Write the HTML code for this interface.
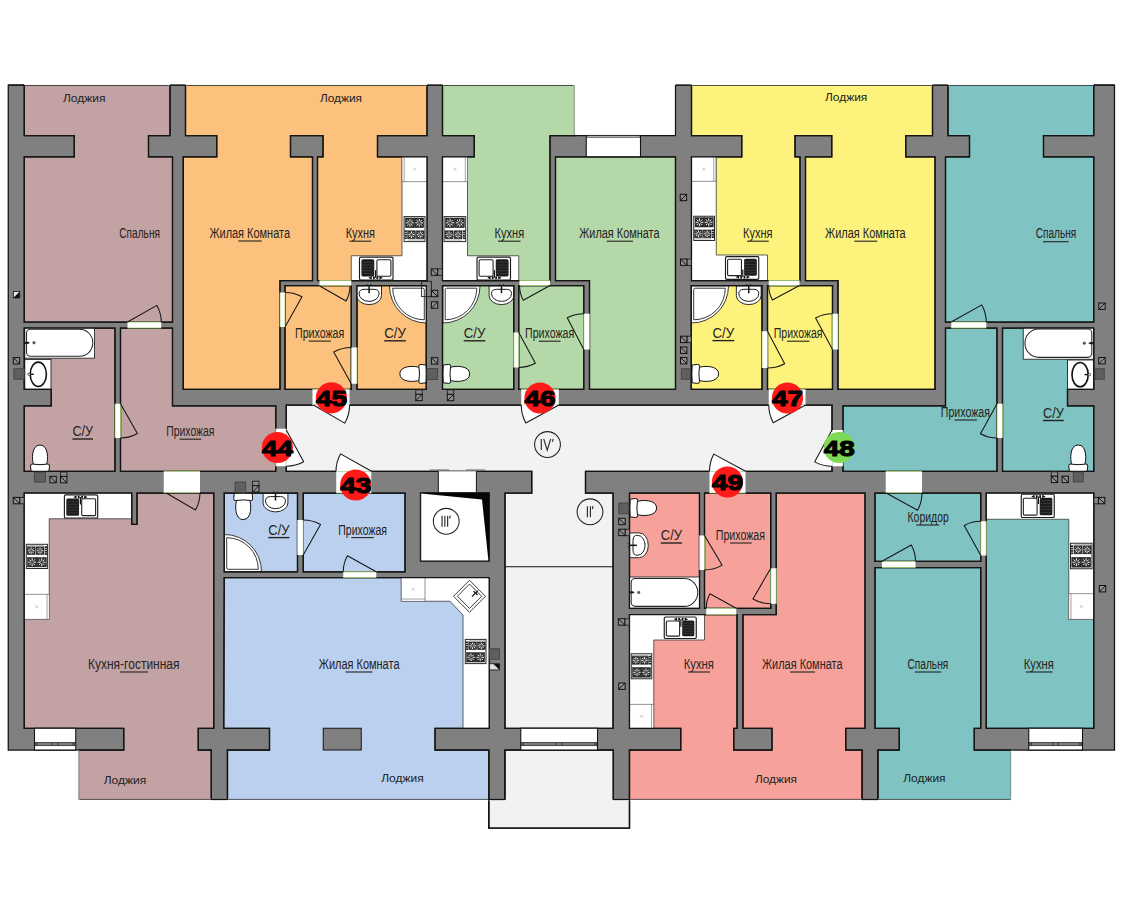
<!DOCTYPE html>
<html lang="ru"><head><meta charset="utf-8"><title>План этажа</title>
<style>
html,body{margin:0;padding:0;background:#fff;}
body{width:1140px;height:913px;overflow:hidden;font-family:"Liberation Sans",sans-serif;}
svg{display:block;}
svg text{font-family:"Liberation Sans",sans-serif;}
</style></head><body>
<svg width="1140" height="913" viewBox="0 0 1140 913">
<rect width="1140" height="913" fill="#ffffff"/>
<g id="walls">
<polygon points="8.25,85 574.5,85 574.5,135.5 675.5,135.5 675.5,85 1114.5,85 1114.5,750 878,750 878,799.5 862,799.5 862,750 629.5,750 629.5,799.5 613.25,799.5 613.25,750 505,750 505,799.5 488.75,799.5 488.75,750 227.5,750 227.5,799.5 211.25,799.5 211.25,750 8.25,750" fill="#808080" stroke="#141414" stroke-width="1.25" />
</g>
<g id="rooms" stroke-linejoin="miter">
<polygon points="286.25,405 832,405 832,471.25 585.5,471.25 585.5,493 613,493 613,728.25 505,728.25 505,493 531.75,493 531.75,471.25 286.25,471.25" fill="#f2f2f2" stroke="#141414" stroke-width="1.25" />
<line x1="505" y1="566.75" x2="613" y2="566.75" stroke="#141414" stroke-width="1" />
<polygon points="505,750 613.25,750 613.25,799.5 629.5,799.5 629.5,828 488.75,828 488.75,799.5 505,799.5" fill="#f2f2f2" stroke="#141414" stroke-width="1.25" />
<polygon points="24.25,85 170,85 170,135.5 148.5,135.5 148.5,156.75 172.5,156.75 172.5,322 24.25,322 24.25,156.75 74.25,156.75 74.25,135.5 24.25,135.5" fill="#c3a2a4" stroke="#141414" stroke-width="1.25" />
<polygon points="24.25,328 115,328 115,471.25 24.25,471.25 24.25,405.75 51.25,405.75 51.25,389.25 24.25,389.25" fill="#c3a2a4" stroke="#141414" stroke-width="1.25" />
<polygon points="120.5,328 172.5,328 172.5,405.75 275.75,405.75 275.75,471.25 120.5,471.25" fill="#c3a2a4" stroke="#141414" stroke-width="1.25" />
<polygon points="24.25,493 131.75,493 131.75,524.25 137,524.25 137,493 213.75,493 213.75,728.25 198.25,728.25 198.25,750 211.25,750 211.25,799.5 78.75,799.5 78.75,750 123.75,750 123.75,728.25 24.25,728.25" fill="#c3a2a4" stroke="#141414" stroke-width="1.25" />
<polygon points="185.5,85 427,85 427,135.5 377.5,135.5 377.5,156.75 427,156.75 427,280.5 317.5,280.5 317.5,156.75 323,156.75 323,135.5 290.5,135.5 290.5,156.75 312.5,156.75 312.5,280.5 280,280.5 280,389.25 183.25,389.25 183.25,156.75 216.75,156.75 216.75,135.5 185.5,135.5" fill="#fbc17d" stroke="#141414" stroke-width="1.25" />
<polygon points="285,285.5 351.25,285.5 351.25,389.25 285,389.25" fill="#fbc17d" stroke="#141414" stroke-width="1.25" />
<polygon points="357,285.5 426.25,285.5 426.25,389.25 357,389.25" fill="#fbc17d" stroke="#141414" stroke-width="1.25" />
<polygon points="442.5,85 574.5,85 574.5,135.5 550,135.5 550,280.5 442.5,280.5 442.5,156.75 474.25,156.75 474.25,135.5 442.5,135.5" fill="#b5d8a8" stroke="#141414" stroke-width="1.25" />
<polygon points="555.5,156.75 675.5,156.75 675.5,389.25 589.5,389.25 589.5,280.5 555.5,280.5" fill="#b5d8a8" stroke="#141414" stroke-width="1.25" />
<polygon points="518.75,285.5 583.75,285.5 583.75,389.25 518.75,389.25" fill="#b5d8a8" stroke="#141414" stroke-width="1.25" />
<polygon points="442.5,285.5 513.75,285.5 513.75,389.25 442.5,389.25" fill="#b5d8a8" stroke="#141414" stroke-width="1.25" />
<polygon points="691.5,85 932.5,85 932.5,135.5 905.75,135.5 905.75,156.75 935,156.75 935,389.25 838,389.25 838,280.5 805.5,280.5 805.5,156.75 831.75,156.75 831.75,135.5 795,135.5 795,156.75 800,156.75 800,280.5 691.5,280.5 691.5,156.75 741.75,156.75 741.75,135.5 691.5,135.5" fill="#fdf27b" stroke="#141414" stroke-width="1.25" />
<polygon points="691.25,285.5 762,285.5 762,389.25 691.25,389.25" fill="#fdf27b" stroke="#141414" stroke-width="1.25" />
<polygon points="767.5,285.5 832.5,285.5 832.5,389.25 767.5,389.25" fill="#fdf27b" stroke="#141414" stroke-width="1.25" />
<polygon points="948,85 1093.75,85 1093.75,135.5 1043.5,135.5 1043.5,156.75 1093.75,156.75 1093.75,322 945.5,322 945.5,156.75 969.5,156.75 969.5,135.5 948,135.5" fill="#7fc3c3" stroke="#141414" stroke-width="1.25" />
<polygon points="945.5,328 997,328 997,471.25 843,471.25 843,405.75 945.5,405.75" fill="#7fc3c3" stroke="#141414" stroke-width="1.25" />
<polygon points="1002.5,328 1093.75,328 1093.75,389.25 1067.5,389.25 1067.5,405.75 1093.75,405.75 1093.75,471.25 1002.5,471.25" fill="#7fc3c3" stroke="#141414" stroke-width="1.25" />
<polygon points="875,493 980.75,493 980.75,561.25 875,561.25" fill="#7fc3c3" stroke="#141414" stroke-width="1.25" />
<polygon points="875,567.5 980.75,567.5 980.75,728.25 974.25,728.25 974.25,750 1010.75,750 1010.75,799.5 878,799.5 878,750 899.25,750 899.25,728.25 875,728.25" fill="#7fc3c3" stroke="#141414" stroke-width="1.25" />
<polygon points="986.25,493 1093.75,493 1093.75,728.25 986.25,728.25" fill="#7fc3c3" stroke="#141414" stroke-width="1.25" />
<polygon points="224.25,493 297.5,493 297.5,571.75 224.25,571.75" fill="#bbd0ee" stroke="#141414" stroke-width="1.25" />
<polygon points="303.25,493 405,493 405,571.75 303.25,571.75" fill="#bbd0ee" stroke="#141414" stroke-width="1.25" />
<polygon points="224.25,577.5 489.25,577.5 489.25,728.25 435,728.25 435,750 488.75,750 488.75,799.5 227.5,799.5 227.5,750 269.5,750 269.5,728.25 223.75,728.25" fill="#bbd0ee" stroke="#141414" stroke-width="1.25" />
<rect x="323.25" y="728.25" width="38" height="21.75" fill="#808080" stroke="#141414" stroke-width="1" />
<polygon points="629.5,493 699.5,493 699.5,608.25 629.5,608.25" fill="#f6a29b" stroke="#141414" stroke-width="1.25" />
<polygon points="704.5,493 770.75,493 770.75,608.25 704.5,608.25" fill="#f6a29b" stroke="#141414" stroke-width="1.25" />
<polygon points="629.5,614.5 737,614.5 737,728.25 733.75,728.25 733.75,750 772,750 772,728.25 743,728.25 743,614.5 776.25,614.5 776.25,493 865,493 865,728.25 845.75,728.25 845.75,750 862,750 862,799.5 629.5,799.5 629.5,750 680.75,750 680.75,728.25 629.5,728.25" fill="#f6a29b" stroke="#141414" stroke-width="1.25" />
</g>
<g id="counters">
<polygon points="402,156.75 427,156.75 427,281 351.25,281 351.25,255.75 402,255.75" fill="#ffffff" stroke="#3a3a3a" stroke-width="0.8" />
<polygon points="442.5,156.75 467.5,156.75 467.5,255.75 518.75,255.75 518.75,281 442.5,281" fill="#ffffff" stroke="#3a3a3a" stroke-width="0.8" />
<polygon points="691.5,156.75 716.25,156.75 716.25,255 767.5,255 767.5,280.5 691.5,280.5" fill="#ffffff" stroke="#3a3a3a" stroke-width="0.8" />
<polygon points="24.25,493 131.5,493 131.5,518.75 49.25,518.75 49.25,619.25 24.25,619.25" fill="#ffffff" stroke="#3a3a3a" stroke-width="0.8" />
<polygon points="986.25,493 1093.75,493 1093.75,619.25 1068.75,619.25 1068.75,519.25 986.25,519.25" fill="#ffffff" stroke="#3a3a3a" stroke-width="0.8" />
<polygon points="401.25,577.5 489.25,577.5 489.25,728.25 463,728.25 463,615 450,601.25 401.25,601.25" fill="#ffffff" stroke="#3a3a3a" stroke-width="0.8" />
<polygon points="629.5,614.5 704.5,614.5 704.5,640 653.75,640 653.75,728.25 629.5,728.25" fill="#ffffff" stroke="#3a3a3a" stroke-width="0.8" />
</g>
<g id="fixtures">
<rect x="402" y="156.75" width="25" height="25" fill="#ffffff" stroke="#666" stroke-width="0.7" />
<line x1="404.2" y1="156.75" x2="404.2" y2="181.75" stroke="#666" stroke-width="0.6" />
<line x1="413" y1="167.75" x2="416" y2="170.75" stroke="#aaa" stroke-width="0.6" />
<line x1="413" y1="170.75" x2="416" y2="167.75" stroke="#aaa" stroke-width="0.6" />
<rect x="442.5" y="156.75" width="25" height="25" fill="#ffffff" stroke="#666" stroke-width="0.7" />
<line x1="465.3" y1="156.75" x2="465.3" y2="181.75" stroke="#666" stroke-width="0.6" />
<line x1="453.5" y1="167.75" x2="456.5" y2="170.75" stroke="#aaa" stroke-width="0.6" />
<line x1="453.5" y1="170.75" x2="456.5" y2="167.75" stroke="#aaa" stroke-width="0.6" />
<rect x="691.5" y="156.75" width="24.5" height="24.5" fill="#ffffff" stroke="#666" stroke-width="0.7" />
<line x1="713.8" y1="156.75" x2="713.8" y2="181.25" stroke="#666" stroke-width="0.6" />
<line x1="702.25" y1="167.5" x2="705.25" y2="170.5" stroke="#aaa" stroke-width="0.6" />
<line x1="702.25" y1="170.5" x2="705.25" y2="167.5" stroke="#aaa" stroke-width="0.6" />
<rect x="24.25" y="594.25" width="25" height="25" fill="#ffffff" stroke="#666" stroke-width="0.7" />
<line x1="47.05" y1="594.25" x2="47.05" y2="619.25" stroke="#666" stroke-width="0.6" />
<line x1="35.25" y1="605.25" x2="38.25" y2="608.25" stroke="#aaa" stroke-width="0.6" />
<line x1="35.25" y1="608.25" x2="38.25" y2="605.25" stroke="#aaa" stroke-width="0.6" />
<rect x="1068.75" y="593.75" width="25" height="25.5" fill="#ffffff" stroke="#666" stroke-width="0.7" />
<line x1="1070.95" y1="593.75" x2="1070.95" y2="619.25" stroke="#666" stroke-width="0.6" />
<line x1="1079.75" y1="605" x2="1082.75" y2="608" stroke="#aaa" stroke-width="0.6" />
<line x1="1079.75" y1="608" x2="1082.75" y2="605" stroke="#aaa" stroke-width="0.6" />
<rect x="401.25" y="577.5" width="23.75" height="23.75" fill="#ffffff" stroke="#666" stroke-width="0.7" />
<line x1="401.25" y1="599.05" x2="425" y2="599.05" stroke="#666" stroke-width="0.6" />
<line x1="411.625" y1="587.875" x2="414.625" y2="590.875" stroke="#aaa" stroke-width="0.6" />
<line x1="411.625" y1="590.875" x2="414.625" y2="587.875" stroke="#aaa" stroke-width="0.6" />
<rect x="629.5" y="704.25" width="24.25" height="24" fill="#ffffff" stroke="#666" stroke-width="0.7" />
<line x1="651.55" y1="704.25" x2="651.55" y2="728.25" stroke="#666" stroke-width="0.6" />
<line x1="640.125" y1="714.75" x2="643.125" y2="717.75" stroke="#aaa" stroke-width="0.6" />
<line x1="640.125" y1="717.75" x2="643.125" y2="714.75" stroke="#aaa" stroke-width="0.6" />
<rect x="404.1" y="216.6" width="20.9" height="25" fill="#ffffff" stroke="#2a2a2a" stroke-width="1.0" />
<rect x="405.4" y="218" width="8.987" height="9.625" fill="#2f2f2f" stroke="#1a1a1a" stroke-width="0.5" />
<line x1="411.574" y1="222.812" x2="413.713" y2="222.812" stroke="#f4f4f4" stroke-width="1.0" />
<line x1="411.082" y1="224.001" x2="412.594" y2="225.513" stroke="#f4f4f4" stroke-width="1.0" />
<line x1="409.894" y1="224.493" x2="409.894" y2="226.632" stroke="#f4f4f4" stroke-width="1.0" />
<line x1="408.705" y1="224.001" x2="407.193" y2="225.513" stroke="#f4f4f4" stroke-width="1.0" />
<line x1="408.213" y1="222.812" x2="406.074" y2="222.812" stroke="#f4f4f4" stroke-width="1.0" />
<line x1="408.705" y1="221.624" x2="407.193" y2="220.112" stroke="#f4f4f4" stroke-width="1.0" />
<line x1="409.894" y1="221.132" x2="409.894" y2="218.993" stroke="#f4f4f4" stroke-width="1.0" />
<line x1="411.082" y1="221.624" x2="412.594" y2="220.112" stroke="#f4f4f4" stroke-width="1.0" />
<circle cx="409.894" cy="222.812" r="1.28334" fill="#2f2f2f" stroke="#bdbdbd" stroke-width="0.5"/>
<rect x="414.713" y="218" width="8.987" height="9.625" fill="#2f2f2f" stroke="#1a1a1a" stroke-width="0.5" />
<line x1="420.887" y1="222.812" x2="423.026" y2="222.812" stroke="#f4f4f4" stroke-width="1.0" />
<line x1="420.395" y1="224.001" x2="421.907" y2="225.513" stroke="#f4f4f4" stroke-width="1.0" />
<line x1="419.207" y1="224.493" x2="419.207" y2="226.632" stroke="#f4f4f4" stroke-width="1.0" />
<line x1="418.018" y1="224.001" x2="416.506" y2="225.513" stroke="#f4f4f4" stroke-width="1.0" />
<line x1="417.526" y1="222.812" x2="415.387" y2="222.812" stroke="#f4f4f4" stroke-width="1.0" />
<line x1="418.018" y1="221.624" x2="416.506" y2="220.112" stroke="#f4f4f4" stroke-width="1.0" />
<line x1="419.207" y1="221.132" x2="419.207" y2="218.993" stroke="#f4f4f4" stroke-width="1.0" />
<line x1="420.395" y1="221.624" x2="421.907" y2="220.112" stroke="#f4f4f4" stroke-width="1.0" />
<circle cx="419.207" cy="222.812" r="1.28334" fill="#2f2f2f" stroke="#bdbdbd" stroke-width="0.5"/>
<rect x="407.653" y="230.825" width="7.733" height="7.875" fill="#2f2f2f" stroke="#1a1a1a" stroke-width="0.5" />
<line x1="412.966" y1="234.762" x2="414.806" y2="234.762" stroke="#f4f4f4" stroke-width="1.0" />
<line x1="412.542" y1="235.785" x2="413.843" y2="237.086" stroke="#f4f4f4" stroke-width="1.0" />
<line x1="411.519" y1="236.209" x2="411.519" y2="238.049" stroke="#f4f4f4" stroke-width="1.0" />
<line x1="410.497" y1="235.785" x2="409.196" y2="237.086" stroke="#f4f4f4" stroke-width="1.0" />
<line x1="410.073" y1="234.762" x2="408.233" y2="234.762" stroke="#f4f4f4" stroke-width="1.0" />
<line x1="410.497" y1="233.74" x2="409.196" y2="232.439" stroke="#f4f4f4" stroke-width="1.0" />
<line x1="411.519" y1="233.316" x2="411.519" y2="231.476" stroke="#f4f4f4" stroke-width="1.0" />
<line x1="412.542" y1="233.74" x2="413.843" y2="232.439" stroke="#f4f4f4" stroke-width="1.0" />
<circle cx="411.519" cy="234.762" r="1.10427" fill="#2f2f2f" stroke="#bdbdbd" stroke-width="0.5"/>
<rect x="416.386" y="230.825" width="7.733" height="7.875" fill="#2f2f2f" stroke="#1a1a1a" stroke-width="0.5" />
<line x1="421.699" y1="234.762" x2="423.539" y2="234.762" stroke="#f4f4f4" stroke-width="1.0" />
<line x1="421.275" y1="235.785" x2="422.576" y2="237.086" stroke="#f4f4f4" stroke-width="1.0" />
<line x1="420.252" y1="236.209" x2="420.252" y2="238.049" stroke="#f4f4f4" stroke-width="1.0" />
<line x1="419.23" y1="235.785" x2="417.929" y2="237.086" stroke="#f4f4f4" stroke-width="1.0" />
<line x1="418.806" y1="234.762" x2="416.966" y2="234.762" stroke="#f4f4f4" stroke-width="1.0" />
<line x1="419.23" y1="233.74" x2="417.929" y2="232.439" stroke="#f4f4f4" stroke-width="1.0" />
<line x1="420.252" y1="233.316" x2="420.252" y2="231.476" stroke="#f4f4f4" stroke-width="1.0" />
<line x1="421.275" y1="233.74" x2="422.576" y2="232.439" stroke="#f4f4f4" stroke-width="1.0" />
<circle cx="420.252" cy="234.762" r="1.10427" fill="#2f2f2f" stroke="#bdbdbd" stroke-width="0.5"/>
<rect x="404.5" y="230.225" width="2.4" height="1.7" fill="#222" stroke="none" stroke-width="1" />
<rect x="404.5" y="232.594" width="2.4" height="1.7" fill="#222" stroke="none" stroke-width="1" />
<rect x="404.5" y="234.963" width="2.4" height="1.7" fill="#222" stroke="none" stroke-width="1" />
<rect x="404.5" y="237.331" width="2.4" height="1.7" fill="#222" stroke="none" stroke-width="1" />
<line x1="407.5" y1="240" x2="424" y2="240" stroke="#555" stroke-width="0.6" />
<rect x="444.1" y="216.6" width="21.6" height="25" fill="#ffffff" stroke="#2a2a2a" stroke-width="1.0" />
<rect x="445.4" y="218" width="9.288" height="9.625" fill="#2f2f2f" stroke="#1a1a1a" stroke-width="0.5" />
<line x1="451.781" y1="222.812" x2="453.991" y2="222.812" stroke="#f4f4f4" stroke-width="1.0" />
<line x1="451.272" y1="224.041" x2="452.835" y2="225.604" stroke="#f4f4f4" stroke-width="1.0" />
<line x1="450.044" y1="224.549" x2="450.044" y2="226.76" stroke="#f4f4f4" stroke-width="1.0" />
<line x1="448.816" y1="224.041" x2="447.253" y2="225.604" stroke="#f4f4f4" stroke-width="1.0" />
<line x1="448.307" y1="222.812" x2="446.097" y2="222.812" stroke="#f4f4f4" stroke-width="1.0" />
<line x1="448.816" y1="221.584" x2="447.253" y2="220.021" stroke="#f4f4f4" stroke-width="1.0" />
<line x1="450.044" y1="221.076" x2="450.044" y2="218.865" stroke="#f4f4f4" stroke-width="1.0" />
<line x1="451.272" y1="221.584" x2="452.835" y2="220.021" stroke="#f4f4f4" stroke-width="1.0" />
<circle cx="450.044" cy="222.812" r="1.32633" fill="#2f2f2f" stroke="#bdbdbd" stroke-width="0.5"/>
<rect x="455.112" y="218" width="9.288" height="9.625" fill="#2f2f2f" stroke="#1a1a1a" stroke-width="0.5" />
<line x1="461.493" y1="222.812" x2="463.703" y2="222.812" stroke="#f4f4f4" stroke-width="1.0" />
<line x1="460.984" y1="224.041" x2="462.547" y2="225.604" stroke="#f4f4f4" stroke-width="1.0" />
<line x1="459.756" y1="224.549" x2="459.756" y2="226.76" stroke="#f4f4f4" stroke-width="1.0" />
<line x1="458.528" y1="224.041" x2="456.965" y2="225.604" stroke="#f4f4f4" stroke-width="1.0" />
<line x1="458.019" y1="222.812" x2="455.809" y2="222.812" stroke="#f4f4f4" stroke-width="1.0" />
<line x1="458.528" y1="221.584" x2="456.965" y2="220.021" stroke="#f4f4f4" stroke-width="1.0" />
<line x1="459.756" y1="221.076" x2="459.756" y2="218.865" stroke="#f4f4f4" stroke-width="1.0" />
<line x1="460.984" y1="221.584" x2="462.547" y2="220.021" stroke="#f4f4f4" stroke-width="1.0" />
<circle cx="459.756" cy="222.812" r="1.32633" fill="#2f2f2f" stroke="#bdbdbd" stroke-width="0.5"/>
<rect x="445.044" y="230.825" width="7.992" height="7.875" fill="#2f2f2f" stroke="#1a1a1a" stroke-width="0.5" />
<line x1="450.513" y1="234.762" x2="452.387" y2="234.762" stroke="#f4f4f4" stroke-width="1.0" />
<line x1="450.081" y1="235.804" x2="451.407" y2="237.129" stroke="#f4f4f4" stroke-width="1.0" />
<line x1="449.04" y1="236.235" x2="449.04" y2="238.109" stroke="#f4f4f4" stroke-width="1.0" />
<line x1="447.999" y1="235.804" x2="446.673" y2="237.129" stroke="#f4f4f4" stroke-width="1.0" />
<line x1="447.567" y1="234.762" x2="445.693" y2="234.762" stroke="#f4f4f4" stroke-width="1.0" />
<line x1="447.999" y1="233.721" x2="446.673" y2="232.396" stroke="#f4f4f4" stroke-width="1.0" />
<line x1="449.04" y1="233.29" x2="449.04" y2="231.416" stroke="#f4f4f4" stroke-width="1.0" />
<line x1="450.081" y1="233.721" x2="451.407" y2="232.396" stroke="#f4f4f4" stroke-width="1.0" />
<circle cx="449.04" cy="234.762" r="1.12455" fill="#2f2f2f" stroke="#bdbdbd" stroke-width="0.5"/>
<rect x="454.036" y="230.825" width="7.992" height="7.875" fill="#2f2f2f" stroke="#1a1a1a" stroke-width="0.5" />
<line x1="459.505" y1="234.762" x2="461.379" y2="234.762" stroke="#f4f4f4" stroke-width="1.0" />
<line x1="459.073" y1="235.804" x2="460.399" y2="237.129" stroke="#f4f4f4" stroke-width="1.0" />
<line x1="458.032" y1="236.235" x2="458.032" y2="238.109" stroke="#f4f4f4" stroke-width="1.0" />
<line x1="456.991" y1="235.804" x2="455.665" y2="237.129" stroke="#f4f4f4" stroke-width="1.0" />
<line x1="456.559" y1="234.762" x2="454.685" y2="234.762" stroke="#f4f4f4" stroke-width="1.0" />
<line x1="456.991" y1="233.721" x2="455.665" y2="232.396" stroke="#f4f4f4" stroke-width="1.0" />
<line x1="458.032" y1="233.29" x2="458.032" y2="231.416" stroke="#f4f4f4" stroke-width="1.0" />
<line x1="459.073" y1="233.721" x2="460.399" y2="232.396" stroke="#f4f4f4" stroke-width="1.0" />
<circle cx="458.032" cy="234.762" r="1.12455" fill="#2f2f2f" stroke="#bdbdbd" stroke-width="0.5"/>
<rect x="462.9" y="230.225" width="2.4" height="1.7" fill="#222" stroke="none" stroke-width="1" />
<rect x="462.9" y="232.594" width="2.4" height="1.7" fill="#222" stroke="none" stroke-width="1" />
<rect x="462.9" y="234.963" width="2.4" height="1.7" fill="#222" stroke="none" stroke-width="1" />
<rect x="462.9" y="237.331" width="2.4" height="1.7" fill="#222" stroke="none" stroke-width="1" />
<line x1="445.1" y1="240" x2="462.3" y2="240" stroke="#555" stroke-width="0.6" />
<rect x="693.75" y="216.25" width="20.75" height="24.25" fill="#ffffff" stroke="#2a2a2a" stroke-width="1.0" />
<rect x="695.05" y="217.65" width="8.9225" height="9.33625" fill="#2f2f2f" stroke="#1a1a1a" stroke-width="0.5" />
<line x1="701.18" y1="222.318" x2="703.303" y2="222.318" stroke="#f4f4f4" stroke-width="1.0" />
<line x1="700.691" y1="223.498" x2="702.193" y2="225" stroke="#f4f4f4" stroke-width="1.0" />
<line x1="699.511" y1="223.987" x2="699.511" y2="226.11" stroke="#f4f4f4" stroke-width="1.0" />
<line x1="698.331" y1="223.498" x2="696.83" y2="225" stroke="#f4f4f4" stroke-width="1.0" />
<line x1="697.843" y1="222.318" x2="695.719" y2="222.318" stroke="#f4f4f4" stroke-width="1.0" />
<line x1="698.331" y1="221.138" x2="696.83" y2="219.637" stroke="#f4f4f4" stroke-width="1.0" />
<line x1="699.511" y1="220.65" x2="699.511" y2="218.526" stroke="#f4f4f4" stroke-width="1.0" />
<line x1="700.691" y1="221.138" x2="702.193" y2="219.637" stroke="#f4f4f4" stroke-width="1.0" />
<circle cx="699.511" cy="222.318" r="1.27413" fill="#2f2f2f" stroke="#bdbdbd" stroke-width="0.5"/>
<rect x="704.278" y="217.65" width="8.9225" height="9.33625" fill="#2f2f2f" stroke="#1a1a1a" stroke-width="0.5" />
<line x1="710.407" y1="222.318" x2="712.531" y2="222.318" stroke="#f4f4f4" stroke-width="1.0" />
<line x1="709.919" y1="223.498" x2="711.42" y2="225" stroke="#f4f4f4" stroke-width="1.0" />
<line x1="708.739" y1="223.987" x2="708.739" y2="226.11" stroke="#f4f4f4" stroke-width="1.0" />
<line x1="707.559" y1="223.498" x2="706.057" y2="225" stroke="#f4f4f4" stroke-width="1.0" />
<line x1="707.07" y1="222.318" x2="704.947" y2="222.318" stroke="#f4f4f4" stroke-width="1.0" />
<line x1="707.559" y1="221.138" x2="706.057" y2="219.637" stroke="#f4f4f4" stroke-width="1.0" />
<line x1="708.739" y1="220.65" x2="708.739" y2="218.526" stroke="#f4f4f4" stroke-width="1.0" />
<line x1="709.919" y1="221.138" x2="711.42" y2="219.637" stroke="#f4f4f4" stroke-width="1.0" />
<circle cx="708.739" cy="222.318" r="1.27413" fill="#2f2f2f" stroke="#bdbdbd" stroke-width="0.5"/>
<rect x="694.617" y="229.961" width="7.6775" height="7.63875" fill="#2f2f2f" stroke="#1a1a1a" stroke-width="0.5" />
<line x1="699.885" y1="233.781" x2="701.703" y2="233.781" stroke="#f4f4f4" stroke-width="1.0" />
<line x1="699.466" y1="234.791" x2="700.752" y2="236.076" stroke="#f4f4f4" stroke-width="1.0" />
<line x1="698.456" y1="235.209" x2="698.456" y2="237.027" stroke="#f4f4f4" stroke-width="1.0" />
<line x1="697.446" y1="234.791" x2="696.161" y2="236.076" stroke="#f4f4f4" stroke-width="1.0" />
<line x1="697.028" y1="233.781" x2="695.21" y2="233.781" stroke="#f4f4f4" stroke-width="1.0" />
<line x1="697.446" y1="232.771" x2="696.161" y2="231.485" stroke="#f4f4f4" stroke-width="1.0" />
<line x1="698.456" y1="232.352" x2="698.456" y2="230.534" stroke="#f4f4f4" stroke-width="1.0" />
<line x1="699.466" y1="232.771" x2="700.752" y2="231.485" stroke="#f4f4f4" stroke-width="1.0" />
<circle cx="698.456" cy="233.781" r="1.09081" fill="#2f2f2f" stroke="#bdbdbd" stroke-width="0.5"/>
<rect x="703.295" y="229.961" width="7.6775" height="7.63875" fill="#2f2f2f" stroke="#1a1a1a" stroke-width="0.5" />
<line x1="708.562" y1="233.781" x2="710.38" y2="233.781" stroke="#f4f4f4" stroke-width="1.0" />
<line x1="708.144" y1="234.791" x2="709.429" y2="236.076" stroke="#f4f4f4" stroke-width="1.0" />
<line x1="707.134" y1="235.209" x2="707.134" y2="237.027" stroke="#f4f4f4" stroke-width="1.0" />
<line x1="706.124" y1="234.791" x2="704.838" y2="236.076" stroke="#f4f4f4" stroke-width="1.0" />
<line x1="705.705" y1="233.781" x2="703.887" y2="233.781" stroke="#f4f4f4" stroke-width="1.0" />
<line x1="706.124" y1="232.771" x2="704.838" y2="231.485" stroke="#f4f4f4" stroke-width="1.0" />
<line x1="707.134" y1="232.352" x2="707.134" y2="230.534" stroke="#f4f4f4" stroke-width="1.0" />
<line x1="708.144" y1="232.771" x2="709.429" y2="231.485" stroke="#f4f4f4" stroke-width="1.0" />
<circle cx="707.134" cy="233.781" r="1.09081" fill="#2f2f2f" stroke="#bdbdbd" stroke-width="0.5"/>
<rect x="711.7" y="229.361" width="2.4" height="1.7" fill="#222" stroke="none" stroke-width="1" />
<rect x="711.7" y="231.671" width="2.4" height="1.7" fill="#222" stroke="none" stroke-width="1" />
<rect x="711.7" y="233.981" width="2.4" height="1.7" fill="#222" stroke="none" stroke-width="1" />
<rect x="711.7" y="236.29" width="2.4" height="1.7" fill="#222" stroke="none" stroke-width="1" />
<line x1="694.75" y1="238.9" x2="711.1" y2="238.9" stroke="#555" stroke-width="0.6" />
<rect x="26.3" y="544.3" width="21.3" height="24.2" fill="#ffffff" stroke="#2a2a2a" stroke-width="1.0" />
<rect x="27.6" y="557.583" width="9.159" height="9.317" fill="#2f2f2f" stroke="#1a1a1a" stroke-width="0.5" />
<line x1="33.8922" y1="562.241" x2="36.0721" y2="562.241" stroke="#f4f4f4" stroke-width="1.0" />
<line x1="33.3906" y1="563.453" x2="34.932" y2="564.994" stroke="#f4f4f4" stroke-width="1.0" />
<line x1="32.1795" y1="563.954" x2="32.1795" y2="566.134" stroke="#f4f4f4" stroke-width="1.0" />
<line x1="30.9684" y1="563.453" x2="29.427" y2="564.994" stroke="#f4f4f4" stroke-width="1.0" />
<line x1="30.4668" y1="562.241" x2="28.2869" y2="562.241" stroke="#f4f4f4" stroke-width="1.0" />
<line x1="30.9684" y1="561.03" x2="29.427" y2="559.489" stroke="#f4f4f4" stroke-width="1.0" />
<line x1="32.1795" y1="560.529" x2="32.1795" y2="558.349" stroke="#f4f4f4" stroke-width="1.0" />
<line x1="33.3906" y1="561.03" x2="34.932" y2="559.489" stroke="#f4f4f4" stroke-width="1.0" />
<circle cx="32.1795" cy="562.241" r="1.30791" fill="#2f2f2f" stroke="#bdbdbd" stroke-width="0.5"/>
<rect x="37.141" y="557.583" width="9.159" height="9.317" fill="#2f2f2f" stroke="#1a1a1a" stroke-width="0.5" />
<line x1="43.4332" y1="562.241" x2="45.6131" y2="562.241" stroke="#f4f4f4" stroke-width="1.0" />
<line x1="42.9316" y1="563.453" x2="44.473" y2="564.994" stroke="#f4f4f4" stroke-width="1.0" />
<line x1="41.7205" y1="563.954" x2="41.7205" y2="566.134" stroke="#f4f4f4" stroke-width="1.0" />
<line x1="40.5094" y1="563.453" x2="38.968" y2="564.994" stroke="#f4f4f4" stroke-width="1.0" />
<line x1="40.0078" y1="562.241" x2="37.8279" y2="562.241" stroke="#f4f4f4" stroke-width="1.0" />
<line x1="40.5094" y1="561.03" x2="38.968" y2="559.489" stroke="#f4f4f4" stroke-width="1.0" />
<line x1="41.7205" y1="560.529" x2="41.7205" y2="558.349" stroke="#f4f4f4" stroke-width="1.0" />
<line x1="42.9316" y1="561.03" x2="44.473" y2="559.489" stroke="#f4f4f4" stroke-width="1.0" />
<circle cx="41.7205" cy="562.241" r="1.30791" fill="#2f2f2f" stroke="#bdbdbd" stroke-width="0.5"/>
<rect x="27.217" y="546.9" width="7.881" height="7.623" fill="#2f2f2f" stroke="#1a1a1a" stroke-width="0.5" />
<line x1="32.583" y1="550.712" x2="34.3973" y2="550.712" stroke="#f4f4f4" stroke-width="1.0" />
<line x1="32.1655" y1="551.719" x2="33.4484" y2="553.002" stroke="#f4f4f4" stroke-width="1.0" />
<line x1="31.1575" y1="552.137" x2="31.1575" y2="553.951" stroke="#f4f4f4" stroke-width="1.0" />
<line x1="30.1495" y1="551.719" x2="28.8666" y2="553.002" stroke="#f4f4f4" stroke-width="1.0" />
<line x1="29.732" y1="550.712" x2="27.9177" y2="550.712" stroke="#f4f4f4" stroke-width="1.0" />
<line x1="30.1495" y1="549.704" x2="28.8666" y2="548.421" stroke="#f4f4f4" stroke-width="1.0" />
<line x1="31.1575" y1="549.286" x2="31.1575" y2="547.472" stroke="#f4f4f4" stroke-width="1.0" />
<line x1="32.1655" y1="549.704" x2="33.4484" y2="548.421" stroke="#f4f4f4" stroke-width="1.0" />
<circle cx="31.1575" cy="550.712" r="1.08856" fill="#2f2f2f" stroke="#bdbdbd" stroke-width="0.5"/>
<rect x="36.098" y="546.9" width="7.881" height="7.623" fill="#2f2f2f" stroke="#1a1a1a" stroke-width="0.5" />
<line x1="41.464" y1="550.712" x2="43.2783" y2="550.712" stroke="#f4f4f4" stroke-width="1.0" />
<line x1="41.0465" y1="551.719" x2="42.3294" y2="553.002" stroke="#f4f4f4" stroke-width="1.0" />
<line x1="40.0385" y1="552.137" x2="40.0385" y2="553.951" stroke="#f4f4f4" stroke-width="1.0" />
<line x1="39.0305" y1="551.719" x2="37.7476" y2="553.002" stroke="#f4f4f4" stroke-width="1.0" />
<line x1="38.613" y1="550.712" x2="36.7987" y2="550.712" stroke="#f4f4f4" stroke-width="1.0" />
<line x1="39.0305" y1="549.704" x2="37.7476" y2="548.421" stroke="#f4f4f4" stroke-width="1.0" />
<line x1="40.0385" y1="549.286" x2="40.0385" y2="547.472" stroke="#f4f4f4" stroke-width="1.0" />
<line x1="41.0465" y1="549.704" x2="42.3294" y2="548.421" stroke="#f4f4f4" stroke-width="1.0" />
<circle cx="40.0385" cy="550.712" r="1.08856" fill="#2f2f2f" stroke="#bdbdbd" stroke-width="0.5"/>
<rect x="44.8" y="546.3" width="2.4" height="1.7" fill="#222" stroke="none" stroke-width="1" />
<rect x="44.8" y="548.606" width="2.4" height="1.7" fill="#222" stroke="none" stroke-width="1" />
<rect x="44.8" y="550.911" width="2.4" height="1.7" fill="#222" stroke="none" stroke-width="1" />
<rect x="44.8" y="553.217" width="2.4" height="1.7" fill="#222" stroke="none" stroke-width="1" />
<line x1="27.3" y1="545.9" x2="44.2" y2="545.9" stroke="#555" stroke-width="0.6" />
<rect x="1070.5" y="543.25" width="21.5" height="25.5" fill="#ffffff" stroke="#2a2a2a" stroke-width="1.0" />
<rect x="1071.8" y="557.332" width="9.245" height="9.8175" fill="#2f2f2f" stroke="#1a1a1a" stroke-width="0.5" />
<line x1="1078.15" y1="562.241" x2="1080.35" y2="562.241" stroke="#f4f4f4" stroke-width="1.0" />
<line x1="1077.64" y1="563.464" x2="1079.2" y2="565.02" stroke="#f4f4f4" stroke-width="1.0" />
<line x1="1076.42" y1="563.97" x2="1076.42" y2="566.17" stroke="#f4f4f4" stroke-width="1.0" />
<line x1="1075.2" y1="563.464" x2="1073.64" y2="565.02" stroke="#f4f4f4" stroke-width="1.0" />
<line x1="1074.69" y1="562.241" x2="1072.49" y2="562.241" stroke="#f4f4f4" stroke-width="1.0" />
<line x1="1075.2" y1="561.019" x2="1073.64" y2="559.463" stroke="#f4f4f4" stroke-width="1.0" />
<line x1="1076.42" y1="560.512" x2="1076.42" y2="558.312" stroke="#f4f4f4" stroke-width="1.0" />
<line x1="1077.64" y1="561.019" x2="1079.2" y2="559.463" stroke="#f4f4f4" stroke-width="1.0" />
<circle cx="1076.42" cy="562.241" r="1.32019" fill="#2f2f2f" stroke="#bdbdbd" stroke-width="0.5"/>
<rect x="1081.46" y="557.332" width="9.245" height="9.8175" fill="#2f2f2f" stroke="#1a1a1a" stroke-width="0.5" />
<line x1="1087.81" y1="562.241" x2="1090.01" y2="562.241" stroke="#f4f4f4" stroke-width="1.0" />
<line x1="1087.3" y1="563.464" x2="1088.86" y2="565.02" stroke="#f4f4f4" stroke-width="1.0" />
<line x1="1086.08" y1="563.97" x2="1086.08" y2="566.17" stroke="#f4f4f4" stroke-width="1.0" />
<line x1="1084.86" y1="563.464" x2="1083.3" y2="565.02" stroke="#f4f4f4" stroke-width="1.0" />
<line x1="1084.35" y1="562.241" x2="1082.15" y2="562.241" stroke="#f4f4f4" stroke-width="1.0" />
<line x1="1084.86" y1="561.019" x2="1083.3" y2="559.463" stroke="#f4f4f4" stroke-width="1.0" />
<line x1="1086.08" y1="560.512" x2="1086.08" y2="558.312" stroke="#f4f4f4" stroke-width="1.0" />
<line x1="1087.3" y1="561.019" x2="1088.86" y2="559.463" stroke="#f4f4f4" stroke-width="1.0" />
<circle cx="1086.08" cy="562.241" r="1.32019" fill="#2f2f2f" stroke="#bdbdbd" stroke-width="0.5"/>
<rect x="1074.15" y="545.85" width="7.955" height="8.0325" fill="#2f2f2f" stroke="#1a1a1a" stroke-width="0.5" />
<line x1="1079.62" y1="549.866" x2="1081.51" y2="549.866" stroke="#f4f4f4" stroke-width="1.0" />
<line x1="1079.18" y1="550.918" x2="1080.52" y2="552.257" stroke="#f4f4f4" stroke-width="1.0" />
<line x1="1078.13" y1="551.354" x2="1078.13" y2="553.247" stroke="#f4f4f4" stroke-width="1.0" />
<line x1="1077.08" y1="550.918" x2="1075.74" y2="552.257" stroke="#f4f4f4" stroke-width="1.0" />
<line x1="1076.64" y1="549.866" x2="1074.75" y2="549.866" stroke="#f4f4f4" stroke-width="1.0" />
<line x1="1077.08" y1="548.814" x2="1075.74" y2="547.476" stroke="#f4f4f4" stroke-width="1.0" />
<line x1="1078.13" y1="548.379" x2="1078.13" y2="546.485" stroke="#f4f4f4" stroke-width="1.0" />
<line x1="1079.18" y1="548.814" x2="1080.52" y2="547.476" stroke="#f4f4f4" stroke-width="1.0" />
<circle cx="1078.13" cy="549.866" r="1.13597" fill="#2f2f2f" stroke="#bdbdbd" stroke-width="0.5"/>
<rect x="1083.11" y="545.85" width="7.955" height="8.0325" fill="#2f2f2f" stroke="#1a1a1a" stroke-width="0.5" />
<line x1="1088.58" y1="549.866" x2="1090.47" y2="549.866" stroke="#f4f4f4" stroke-width="1.0" />
<line x1="1088.14" y1="550.918" x2="1089.48" y2="552.257" stroke="#f4f4f4" stroke-width="1.0" />
<line x1="1087.09" y1="551.354" x2="1087.09" y2="553.247" stroke="#f4f4f4" stroke-width="1.0" />
<line x1="1086.04" y1="550.918" x2="1084.7" y2="552.257" stroke="#f4f4f4" stroke-width="1.0" />
<line x1="1085.6" y1="549.866" x2="1083.71" y2="549.866" stroke="#f4f4f4" stroke-width="1.0" />
<line x1="1086.04" y1="548.814" x2="1084.7" y2="547.476" stroke="#f4f4f4" stroke-width="1.0" />
<line x1="1087.09" y1="548.379" x2="1087.09" y2="546.485" stroke="#f4f4f4" stroke-width="1.0" />
<line x1="1088.14" y1="548.814" x2="1089.48" y2="547.476" stroke="#f4f4f4" stroke-width="1.0" />
<circle cx="1087.09" cy="549.866" r="1.13597" fill="#2f2f2f" stroke="#bdbdbd" stroke-width="0.5"/>
<rect x="1070.9" y="545.25" width="2.4" height="1.7" fill="#222" stroke="none" stroke-width="1" />
<rect x="1070.9" y="547.658" width="2.4" height="1.7" fill="#222" stroke="none" stroke-width="1" />
<rect x="1070.9" y="550.066" width="2.4" height="1.7" fill="#222" stroke="none" stroke-width="1" />
<rect x="1070.9" y="552.474" width="2.4" height="1.7" fill="#222" stroke="none" stroke-width="1" />
<line x1="1073.9" y1="544.85" x2="1091" y2="544.85" stroke="#555" stroke-width="0.6" />
<rect x="465.3" y="639.4" width="20.7" height="24.2" fill="#ffffff" stroke="#2a2a2a" stroke-width="1.0" />
<rect x="466.6" y="652.683" width="8.901" height="9.317" fill="#2f2f2f" stroke="#1a1a1a" stroke-width="0.5" />
<line x1="472.715" y1="657.341" x2="474.833" y2="657.341" stroke="#f4f4f4" stroke-width="1.0" />
<line x1="472.227" y1="658.518" x2="473.725" y2="660.016" stroke="#f4f4f4" stroke-width="1.0" />
<line x1="471.05" y1="659.006" x2="471.05" y2="661.124" stroke="#f4f4f4" stroke-width="1.0" />
<line x1="469.874" y1="658.518" x2="468.376" y2="660.016" stroke="#f4f4f4" stroke-width="1.0" />
<line x1="469.386" y1="657.341" x2="467.268" y2="657.341" stroke="#f4f4f4" stroke-width="1.0" />
<line x1="469.874" y1="656.165" x2="468.376" y2="654.667" stroke="#f4f4f4" stroke-width="1.0" />
<line x1="471.05" y1="655.677" x2="471.05" y2="653.559" stroke="#f4f4f4" stroke-width="1.0" />
<line x1="472.227" y1="656.165" x2="473.725" y2="654.667" stroke="#f4f4f4" stroke-width="1.0" />
<circle cx="471.05" cy="657.341" r="1.27106" fill="#2f2f2f" stroke="#bdbdbd" stroke-width="0.5"/>
<rect x="475.799" y="652.683" width="8.901" height="9.317" fill="#2f2f2f" stroke="#1a1a1a" stroke-width="0.5" />
<line x1="481.914" y1="657.341" x2="484.032" y2="657.341" stroke="#f4f4f4" stroke-width="1.0" />
<line x1="481.426" y1="658.518" x2="482.924" y2="660.016" stroke="#f4f4f4" stroke-width="1.0" />
<line x1="480.249" y1="659.006" x2="480.249" y2="661.124" stroke="#f4f4f4" stroke-width="1.0" />
<line x1="479.073" y1="658.518" x2="477.575" y2="660.016" stroke="#f4f4f4" stroke-width="1.0" />
<line x1="478.585" y1="657.341" x2="476.467" y2="657.341" stroke="#f4f4f4" stroke-width="1.0" />
<line x1="479.073" y1="656.165" x2="477.575" y2="654.667" stroke="#f4f4f4" stroke-width="1.0" />
<line x1="480.249" y1="655.677" x2="480.249" y2="653.559" stroke="#f4f4f4" stroke-width="1.0" />
<line x1="481.426" y1="656.165" x2="482.924" y2="654.667" stroke="#f4f4f4" stroke-width="1.0" />
<circle cx="480.249" cy="657.341" r="1.27106" fill="#2f2f2f" stroke="#bdbdbd" stroke-width="0.5"/>
<rect x="468.819" y="642" width="7.659" height="7.623" fill="#2f2f2f" stroke="#1a1a1a" stroke-width="0.5" />
<line x1="474.074" y1="645.812" x2="475.888" y2="645.812" stroke="#f4f4f4" stroke-width="1.0" />
<line x1="473.656" y1="646.819" x2="474.939" y2="648.102" stroke="#f4f4f4" stroke-width="1.0" />
<line x1="472.649" y1="647.237" x2="472.649" y2="649.051" stroke="#f4f4f4" stroke-width="1.0" />
<line x1="471.641" y1="646.819" x2="470.358" y2="648.102" stroke="#f4f4f4" stroke-width="1.0" />
<line x1="471.223" y1="645.812" x2="469.409" y2="645.812" stroke="#f4f4f4" stroke-width="1.0" />
<line x1="471.641" y1="644.804" x2="470.358" y2="643.521" stroke="#f4f4f4" stroke-width="1.0" />
<line x1="472.649" y1="644.386" x2="472.649" y2="642.572" stroke="#f4f4f4" stroke-width="1.0" />
<line x1="473.656" y1="644.804" x2="474.939" y2="643.521" stroke="#f4f4f4" stroke-width="1.0" />
<circle cx="472.649" cy="645.812" r="1.08856" fill="#2f2f2f" stroke="#bdbdbd" stroke-width="0.5"/>
<rect x="477.478" y="642" width="7.659" height="7.623" fill="#2f2f2f" stroke="#1a1a1a" stroke-width="0.5" />
<line x1="482.733" y1="645.812" x2="484.547" y2="645.812" stroke="#f4f4f4" stroke-width="1.0" />
<line x1="482.315" y1="646.819" x2="483.598" y2="648.102" stroke="#f4f4f4" stroke-width="1.0" />
<line x1="481.308" y1="647.237" x2="481.308" y2="649.051" stroke="#f4f4f4" stroke-width="1.0" />
<line x1="480.3" y1="646.819" x2="479.017" y2="648.102" stroke="#f4f4f4" stroke-width="1.0" />
<line x1="479.882" y1="645.812" x2="478.068" y2="645.812" stroke="#f4f4f4" stroke-width="1.0" />
<line x1="480.3" y1="644.804" x2="479.017" y2="643.521" stroke="#f4f4f4" stroke-width="1.0" />
<line x1="481.308" y1="644.386" x2="481.308" y2="642.572" stroke="#f4f4f4" stroke-width="1.0" />
<line x1="482.315" y1="644.804" x2="483.598" y2="643.521" stroke="#f4f4f4" stroke-width="1.0" />
<circle cx="481.308" cy="645.812" r="1.08856" fill="#2f2f2f" stroke="#bdbdbd" stroke-width="0.5"/>
<rect x="465.7" y="641.4" width="2.4" height="1.7" fill="#222" stroke="none" stroke-width="1" />
<rect x="465.7" y="643.706" width="2.4" height="1.7" fill="#222" stroke="none" stroke-width="1" />
<rect x="465.7" y="646.011" width="2.4" height="1.7" fill="#222" stroke="none" stroke-width="1" />
<rect x="465.7" y="648.317" width="2.4" height="1.7" fill="#222" stroke="none" stroke-width="1" />
<line x1="468.7" y1="641" x2="485" y2="641" stroke="#555" stroke-width="0.6" />
<rect x="631.25" y="653.75" width="20.5" height="25" fill="#ffffff" stroke="#2a2a2a" stroke-width="1.0" />
<rect x="632.55" y="667.525" width="8.815" height="9.625" fill="#2f2f2f" stroke="#1a1a1a" stroke-width="0.5" />
<line x1="638.606" y1="672.337" x2="640.704" y2="672.337" stroke="#f4f4f4" stroke-width="1.0" />
<line x1="638.123" y1="673.503" x2="639.607" y2="674.987" stroke="#f4f4f4" stroke-width="1.0" />
<line x1="636.957" y1="673.986" x2="636.957" y2="676.084" stroke="#f4f4f4" stroke-width="1.0" />
<line x1="635.792" y1="673.503" x2="634.308" y2="674.987" stroke="#f4f4f4" stroke-width="1.0" />
<line x1="635.309" y1="672.337" x2="633.211" y2="672.337" stroke="#f4f4f4" stroke-width="1.0" />
<line x1="635.792" y1="671.172" x2="634.308" y2="669.688" stroke="#f4f4f4" stroke-width="1.0" />
<line x1="636.957" y1="670.689" x2="636.957" y2="668.591" stroke="#f4f4f4" stroke-width="1.0" />
<line x1="638.123" y1="671.172" x2="639.607" y2="669.688" stroke="#f4f4f4" stroke-width="1.0" />
<circle cx="636.957" cy="672.337" r="1.25878" fill="#2f2f2f" stroke="#bdbdbd" stroke-width="0.5"/>
<rect x="641.635" y="667.525" width="8.815" height="9.625" fill="#2f2f2f" stroke="#1a1a1a" stroke-width="0.5" />
<line x1="647.691" y1="672.337" x2="649.789" y2="672.337" stroke="#f4f4f4" stroke-width="1.0" />
<line x1="647.208" y1="673.503" x2="648.692" y2="674.987" stroke="#f4f4f4" stroke-width="1.0" />
<line x1="646.043" y1="673.986" x2="646.043" y2="676.084" stroke="#f4f4f4" stroke-width="1.0" />
<line x1="644.877" y1="673.503" x2="643.393" y2="674.987" stroke="#f4f4f4" stroke-width="1.0" />
<line x1="644.394" y1="672.337" x2="642.296" y2="672.337" stroke="#f4f4f4" stroke-width="1.0" />
<line x1="644.877" y1="671.172" x2="643.393" y2="669.688" stroke="#f4f4f4" stroke-width="1.0" />
<line x1="646.043" y1="670.689" x2="646.043" y2="668.591" stroke="#f4f4f4" stroke-width="1.0" />
<line x1="647.208" y1="671.172" x2="648.692" y2="669.688" stroke="#f4f4f4" stroke-width="1.0" />
<circle cx="646.043" cy="672.337" r="1.25878" fill="#2f2f2f" stroke="#bdbdbd" stroke-width="0.5"/>
<rect x="632.095" y="656.35" width="7.585" height="7.875" fill="#2f2f2f" stroke="#1a1a1a" stroke-width="0.5" />
<line x1="637.306" y1="660.288" x2="639.111" y2="660.288" stroke="#f4f4f4" stroke-width="1.0" />
<line x1="636.89" y1="661.29" x2="638.167" y2="662.567" stroke="#f4f4f4" stroke-width="1.0" />
<line x1="635.888" y1="661.706" x2="635.888" y2="663.511" stroke="#f4f4f4" stroke-width="1.0" />
<line x1="634.885" y1="661.29" x2="633.608" y2="662.567" stroke="#f4f4f4" stroke-width="1.0" />
<line x1="634.469" y1="660.288" x2="632.664" y2="660.288" stroke="#f4f4f4" stroke-width="1.0" />
<line x1="634.885" y1="659.285" x2="633.608" y2="658.008" stroke="#f4f4f4" stroke-width="1.0" />
<line x1="635.888" y1="658.869" x2="635.888" y2="657.064" stroke="#f4f4f4" stroke-width="1.0" />
<line x1="636.89" y1="659.285" x2="638.167" y2="658.008" stroke="#f4f4f4" stroke-width="1.0" />
<circle cx="635.888" cy="660.288" r="1.08314" fill="#2f2f2f" stroke="#bdbdbd" stroke-width="0.5"/>
<rect x="640.68" y="656.35" width="7.585" height="7.875" fill="#2f2f2f" stroke="#1a1a1a" stroke-width="0.5" />
<line x1="645.891" y1="660.288" x2="647.696" y2="660.288" stroke="#f4f4f4" stroke-width="1.0" />
<line x1="645.475" y1="661.29" x2="646.752" y2="662.567" stroke="#f4f4f4" stroke-width="1.0" />
<line x1="644.472" y1="661.706" x2="644.472" y2="663.511" stroke="#f4f4f4" stroke-width="1.0" />
<line x1="643.47" y1="661.29" x2="642.193" y2="662.567" stroke="#f4f4f4" stroke-width="1.0" />
<line x1="643.054" y1="660.288" x2="641.249" y2="660.288" stroke="#f4f4f4" stroke-width="1.0" />
<line x1="643.47" y1="659.285" x2="642.193" y2="658.008" stroke="#f4f4f4" stroke-width="1.0" />
<line x1="644.472" y1="658.869" x2="644.472" y2="657.064" stroke="#f4f4f4" stroke-width="1.0" />
<line x1="645.475" y1="659.285" x2="646.752" y2="658.008" stroke="#f4f4f4" stroke-width="1.0" />
<circle cx="644.472" cy="660.288" r="1.08314" fill="#2f2f2f" stroke="#bdbdbd" stroke-width="0.5"/>
<rect x="648.95" y="655.75" width="2.4" height="1.7" fill="#222" stroke="none" stroke-width="1" />
<rect x="648.95" y="658.119" width="2.4" height="1.7" fill="#222" stroke="none" stroke-width="1" />
<rect x="648.95" y="660.487" width="2.4" height="1.7" fill="#222" stroke="none" stroke-width="1" />
<rect x="648.95" y="662.856" width="2.4" height="1.7" fill="#222" stroke="none" stroke-width="1" />
<line x1="632.25" y1="655.35" x2="648.35" y2="655.35" stroke="#555" stroke-width="0.6" />
<rect x="359.5" y="257.1" width="33.5" height="22.9" rx="1.3" fill="#fff" stroke="#1c1c1c" stroke-width="1.15"/>
<rect x="361.4" y="259.3" width="12.84" height="17.1" rx="1.6" fill="#1c1c1c"/>
<line x1="362" y1="262.15" x2="373.64" y2="262.15" stroke="#555" stroke-width="0.5" />
<line x1="362" y1="265" x2="373.64" y2="265" stroke="#555" stroke-width="0.5" />
<line x1="362" y1="267.85" x2="373.64" y2="267.85" stroke="#555" stroke-width="0.5" />
<line x1="362" y1="270.7" x2="373.64" y2="270.7" stroke="#555" stroke-width="0.5" />
<line x1="362" y1="273.55" x2="373.64" y2="273.55" stroke="#555" stroke-width="0.5" />
<rect x="376.92" y="259.7" width="13.98" height="16.5" rx="1.2" fill="#fff" stroke="#222" stroke-width="1.1"/>
<path d="M368.38,277.7 l3.4,-1.7 v3.4 z M382.78,277.7 l-3.4,-1.7 v3.4 z" fill="#111"/>
<rect x="372.98" y="276.3" width="1.8" height="2.8" fill="#111" stroke="none" stroke-width="1" />
<rect x="376.38" y="276.3" width="1.8" height="2.8" fill="#111" stroke="none" stroke-width="1" />
<line x1="375.58" y1="277.7" x2="375.58" y2="270.2" stroke="#111" stroke-width="1.2" />
<rect x="477" y="257.1" width="33.5" height="22.9" rx="1.3" fill="#fff" stroke="#1c1c1c" stroke-width="1.15"/>
<rect x="495.76" y="259.3" width="12.84" height="17.1" rx="1.6" fill="#1c1c1c"/>
<line x1="496.36" y1="262.15" x2="508" y2="262.15" stroke="#555" stroke-width="0.5" />
<line x1="496.36" y1="265" x2="508" y2="265" stroke="#555" stroke-width="0.5" />
<line x1="496.36" y1="267.85" x2="508" y2="267.85" stroke="#555" stroke-width="0.5" />
<line x1="496.36" y1="270.7" x2="508" y2="270.7" stroke="#555" stroke-width="0.5" />
<line x1="496.36" y1="273.55" x2="508" y2="273.55" stroke="#555" stroke-width="0.5" />
<rect x="479.1" y="259.7" width="13.98" height="16.5" rx="1.2" fill="#fff" stroke="#222" stroke-width="1.1"/>
<path d="M487.22,277.7 l3.4,-1.7 v3.4 z M501.62,277.7 l-3.4,-1.7 v3.4 z" fill="#111"/>
<rect x="491.82" y="276.3" width="1.8" height="2.8" fill="#111" stroke="none" stroke-width="1" />
<rect x="495.22" y="276.3" width="1.8" height="2.8" fill="#111" stroke="none" stroke-width="1" />
<line x1="494.42" y1="277.7" x2="494.42" y2="270.2" stroke="#111" stroke-width="1.2" />
<rect x="725.5" y="256.6" width="33.25" height="22.8" rx="1.3" fill="#fff" stroke="#1c1c1c" stroke-width="1.15"/>
<rect x="744.12" y="258.8" width="12.73" height="17" rx="1.6" fill="#1c1c1c"/>
<line x1="744.72" y1="261.633" x2="756.25" y2="261.633" stroke="#555" stroke-width="0.5" />
<line x1="744.72" y1="264.467" x2="756.25" y2="264.467" stroke="#555" stroke-width="0.5" />
<line x1="744.72" y1="267.3" x2="756.25" y2="267.3" stroke="#555" stroke-width="0.5" />
<line x1="744.72" y1="270.133" x2="756.25" y2="270.133" stroke="#555" stroke-width="0.5" />
<line x1="744.72" y1="272.967" x2="756.25" y2="272.967" stroke="#555" stroke-width="0.5" />
<rect x="727.6" y="259.2" width="13.86" height="16.4" rx="1.2" fill="#fff" stroke="#222" stroke-width="1.1"/>
<path d="M735.59,277.1 l3.4,-1.7 v3.4 z M749.99,277.1 l-3.4,-1.7 v3.4 z" fill="#111"/>
<rect x="740.19" y="275.7" width="1.8" height="2.8" fill="#111" stroke="none" stroke-width="1" />
<rect x="743.59" y="275.7" width="1.8" height="2.8" fill="#111" stroke="none" stroke-width="1" />
<line x1="742.79" y1="277.1" x2="742.79" y2="269.6" stroke="#111" stroke-width="1.2" />
<rect x="64.4" y="494.8" width="33.3" height="23.2" rx="1.3" fill="#fff" stroke="#1c1c1c" stroke-width="1.15"/>
<rect x="66.3" y="498.4" width="12.752" height="17.4" rx="1.6" fill="#1c1c1c"/>
<line x1="66.9" y1="501.3" x2="78.452" y2="501.3" stroke="#555" stroke-width="0.5" />
<line x1="66.9" y1="504.2" x2="78.452" y2="504.2" stroke="#555" stroke-width="0.5" />
<line x1="66.9" y1="507.1" x2="78.452" y2="507.1" stroke="#555" stroke-width="0.5" />
<line x1="66.9" y1="510" x2="78.452" y2="510" stroke="#555" stroke-width="0.5" />
<line x1="66.9" y1="512.9" x2="78.452" y2="512.9" stroke="#555" stroke-width="0.5" />
<rect x="81.716" y="498.8" width="13.884" height="16.8" rx="1.2" fill="#fff" stroke="#222" stroke-width="1.1"/>
<path d="M73.184,497.1 l3.4,-1.7 v3.4 z M87.584,497.1 l-3.4,-1.7 v3.4 z" fill="#111"/>
<rect x="77.784" y="495.7" width="1.8" height="2.8" fill="#111" stroke="none" stroke-width="1" />
<rect x="81.184" y="495.7" width="1.8" height="2.8" fill="#111" stroke="none" stroke-width="1" />
<line x1="80.384" y1="497.1" x2="80.384" y2="504.6" stroke="#111" stroke-width="1.2" />
<rect x="1021.25" y="494.25" width="33" height="23.25" rx="1.3" fill="#fff" stroke="#1c1c1c" stroke-width="1.15"/>
<rect x="1039.73" y="497.85" width="12.62" height="17.45" rx="1.6" fill="#1c1c1c"/>
<line x1="1040.33" y1="500.758" x2="1051.75" y2="500.758" stroke="#555" stroke-width="0.5" />
<line x1="1040.33" y1="503.667" x2="1051.75" y2="503.667" stroke="#555" stroke-width="0.5" />
<line x1="1040.33" y1="506.575" x2="1051.75" y2="506.575" stroke="#555" stroke-width="0.5" />
<line x1="1040.33" y1="509.483" x2="1051.75" y2="509.483" stroke="#555" stroke-width="0.5" />
<line x1="1040.33" y1="512.392" x2="1051.75" y2="512.392" stroke="#555" stroke-width="0.5" />
<rect x="1023.35" y="498.25" width="13.74" height="16.85" rx="1.2" fill="#fff" stroke="#222" stroke-width="1.1"/>
<path d="M1031.21,496.55 l3.4,-1.7 v3.4 z M1045.61,496.55 l-3.4,-1.7 v3.4 z" fill="#111"/>
<rect x="1035.81" y="495.15" width="1.8" height="2.8" fill="#111" stroke="none" stroke-width="1" />
<rect x="1039.21" y="495.15" width="1.8" height="2.8" fill="#111" stroke="none" stroke-width="1" />
<line x1="1038.41" y1="496.55" x2="1038.41" y2="504.05" stroke="#111" stroke-width="1.2" />
<rect x="664.25" y="617" width="32" height="21.5" rx="1.3" fill="#fff" stroke="#1c1c1c" stroke-width="1.15"/>
<rect x="682.17" y="620.6" width="12.18" height="15.7" rx="1.6" fill="#1c1c1c"/>
<line x1="682.77" y1="623.217" x2="693.75" y2="623.217" stroke="#555" stroke-width="0.5" />
<line x1="682.77" y1="625.833" x2="693.75" y2="625.833" stroke="#555" stroke-width="0.5" />
<line x1="682.77" y1="628.45" x2="693.75" y2="628.45" stroke="#555" stroke-width="0.5" />
<line x1="682.77" y1="631.067" x2="693.75" y2="631.067" stroke="#555" stroke-width="0.5" />
<line x1="682.77" y1="633.683" x2="693.75" y2="633.683" stroke="#555" stroke-width="0.5" />
<rect x="666.35" y="621" width="13.26" height="15.1" rx="1.2" fill="#fff" stroke="#222" stroke-width="1.1"/>
<path d="M673.69,619.3 l3.4,-1.7 v3.4 z M688.09,619.3 l-3.4,-1.7 v3.4 z" fill="#111"/>
<rect x="678.29" y="617.9" width="1.8" height="2.8" fill="#111" stroke="none" stroke-width="1" />
<rect x="681.69" y="617.9" width="1.8" height="2.8" fill="#111" stroke="none" stroke-width="1" />
<line x1="680.89" y1="619.3" x2="680.89" y2="626.8" stroke="#111" stroke-width="1.2" />
<g transform="translate(469.5,596.25) rotate(45)"><rect x="-11.3" y="-11.3" width="22.6" height="22.6" fill="#fff" stroke="#333" stroke-width="0.9"/><rect x="-8.6" y="-8.6" width="17.2" height="17.2" fill="#fff" stroke="#333" stroke-width="0.9"/><line x1="2" y1="-10" x2="2" y2="-1.5" stroke="#111" stroke-width="1.3"/><line x1="-0.8" y1="-6.5" x2="4.8" y2="-6.5" stroke="#111" stroke-width="1.3"/></g>
<rect x="24.8" y="327.8" width="69.7" height="30.4" fill="#ffffff" stroke="#2a2a2a" stroke-width="0.9" />
<path d="M30.5,329.3 H79.8 A13,13.5 0 0 1 79.8,356.3 H30.5 A4,4 0 0 1 26.5,352.3 V333.3 A4,4 0 0 1 30.5,329.3 Z" fill="#fff" stroke="#2a2a2a" stroke-width="1.05"/>
<path d="M25,341.7 h3.2 l1.8,1.1 l-1.8,1.1 h-3.2 z" fill="#222"/>
<circle cx="34" cy="342.8" r="1.3" fill="#555" stroke="#333" stroke-width="0.4"/>
<rect x="1023.25" y="327.5" width="70.25" height="31.75" fill="#ffffff" stroke="#2a2a2a" stroke-width="0.9" />
<path d="M1087.8,329 H1038.62 A13.675,14.175 0 0 0 1038.62,357.35 H1087.8 A4,4 0 0 0 1091.8,353.35 V333 A4,4 0 0 0 1087.8,329 Z" fill="#fff" stroke="#2a2a2a" stroke-width="1.05"/>
<path d="M1093.3,342.075 h-3.2 l-1.8,1.1 l1.8,1.1 h3.2 z" fill="#222"/>
<circle cx="1084.3" cy="343.175" r="1.3" fill="#555" stroke="#333" stroke-width="0.4"/>
<rect x="629.5" y="577" width="70" height="31.25" fill="#ffffff" stroke="#2a2a2a" stroke-width="0.9" />
<path d="M635.2,578.5 H684.375 A13.425,13.925 0 0 1 684.375,606.35 H635.2 A4,4 0 0 1 631.2,602.35 V582.5 A4,4 0 0 1 635.2,578.5 Z" fill="#fff" stroke="#2a2a2a" stroke-width="1.05"/>
<path d="M629.7,591.325 h3.2 l1.8,1.1 l-1.8,1.1 h-3.2 z" fill="#222"/>
<circle cx="638.7" cy="592.425" r="1.3" fill="#555" stroke="#333" stroke-width="0.4"/>
<rect x="24.8" y="359.4" width="26.2" height="29.8" fill="#ffffff" stroke="#222" stroke-width="0.9" />
<ellipse cx="38.3" cy="374.3" rx="8.1" ry="12.2" fill="#fff" stroke="#111" stroke-width="1.6"/>
<line x1="27.8" y1="374.3" x2="33.8" y2="374.3" stroke="#111" stroke-width="1.4" />
<circle cx="29" cy="374.3" r="1.2" fill="#fff" stroke="#111" stroke-width="0.6"/>
<rect x="1067.5" y="360" width="26" height="29.25" fill="#ffffff" stroke="#222" stroke-width="0.9" />
<ellipse cx="1080.1" cy="374.625" rx="8.1" ry="12.2" fill="#fff" stroke="#111" stroke-width="1.6"/>
<line x1="1090.6" y1="374.625" x2="1084.6" y2="374.625" stroke="#111" stroke-width="1.4" />
<circle cx="1089.4" cy="374.625" r="1.2" fill="#fff" stroke="#111" stroke-width="0.6"/>
<g transform="translate(369.1,286) rotate(0)">
<path d="M-12.4,0 H12.4 V9.6 A12.4,9 0 0 1 -12.4,9.6 Z" fill="#fff" stroke="#2a2a2a" stroke-width="1"/>
<path d="M-10,7.6 Q-10,3.4 -5,3.3 H5 Q10,3.4 10,7.6 A10,7.8 0 0 1 -10,7.6 Z" fill="#fff" stroke="#1c1c1c" stroke-width="1"/>
<line x1="0" y1="0.2" x2="0" y2="7.2" stroke="#111" stroke-width="1.5"/>
<path d="M-2.6,-1.3 H-1 M1,-1.3 H2.6" stroke="#111" stroke-width="0.7"/>
</g>
<g transform="translate(501.5,286) rotate(0)">
<path d="M-12.4,0 H12.4 V9.6 A12.4,9 0 0 1 -12.4,9.6 Z" fill="#fff" stroke="#2a2a2a" stroke-width="1"/>
<path d="M-10,7.6 Q-10,3.4 -5,3.3 H5 Q10,3.4 10,7.6 A10,7.8 0 0 1 -10,7.6 Z" fill="#fff" stroke="#1c1c1c" stroke-width="1"/>
<line x1="0" y1="0.2" x2="0" y2="7.2" stroke="#111" stroke-width="1.5"/>
<path d="M-2.6,-1.3 H-1 M1,-1.3 H2.6" stroke="#111" stroke-width="0.7"/>
</g>
<g transform="translate(748.75,286) rotate(0)">
<path d="M-12.4,0 H12.4 V9.6 A12.4,9 0 0 1 -12.4,9.6 Z" fill="#fff" stroke="#2a2a2a" stroke-width="1"/>
<path d="M-10,7.6 Q-10,3.4 -5,3.3 H5 Q10,3.4 10,7.6 A10,7.8 0 0 1 -10,7.6 Z" fill="#fff" stroke="#1c1c1c" stroke-width="1"/>
<line x1="0" y1="0.2" x2="0" y2="7.2" stroke="#111" stroke-width="1.5"/>
<path d="M-2.6,-1.3 H-1 M1,-1.3 H2.6" stroke="#111" stroke-width="0.7"/>
</g>
<g transform="translate(275.5,493.3) rotate(0)">
<path d="M-12.4,0 H12.4 V9.6 A12.4,9 0 0 1 -12.4,9.6 Z" fill="#fff" stroke="#2a2a2a" stroke-width="1"/>
<path d="M-10,7.6 Q-10,3.4 -5,3.3 H5 Q10,3.4 10,7.6 A10,7.8 0 0 1 -10,7.6 Z" fill="#fff" stroke="#1c1c1c" stroke-width="1"/>
<line x1="0" y1="0.2" x2="0" y2="7.2" stroke="#111" stroke-width="1.5"/>
<path d="M-2.6,-1.3 H-1 M1,-1.3 H2.6" stroke="#111" stroke-width="0.7"/>
</g>
<g transform="translate(629.7,545.3) rotate(-90)">
<path d="M-12.4,0 H12.4 V9.6 A12.4,9 0 0 1 -12.4,9.6 Z" fill="#fff" stroke="#2a2a2a" stroke-width="1"/>
<path d="M-10,7.6 Q-10,3.4 -5,3.3 H5 Q10,3.4 10,7.6 A10,7.8 0 0 1 -10,7.6 Z" fill="#fff" stroke="#1c1c1c" stroke-width="1"/>
<line x1="0" y1="0.2" x2="0" y2="7.2" stroke="#111" stroke-width="1.5"/>
<path d="M-2.6,-1.3 H-1 M1,-1.3 H2.6" stroke="#111" stroke-width="0.7"/>
</g>
<path d="M426.5,286 H389.5 A37,37 0 0 0 426.5,323 Z" fill="#fff" stroke="#2e2e2e" stroke-width="0.95"/>
<path d="M422.8,288.2 H392.7 A31.6,31.6 0 0 0 424.3,319.8 V289.7 Q424.3,288.2 422.8,288.2 Z" fill="#fff" stroke="#2e2e2e" stroke-width="0.95"/>
<path d="M443,286 H480 A37,37 0 0 1 443,323 Z" fill="#fff" stroke="#2e2e2e" stroke-width="0.95"/>
<path d="M446.7,288.2 H476.8 A31.6,31.6 0 0 1 445.2,319.8 V289.7 Q445.2,288.2 446.7,288.2 Z" fill="#fff" stroke="#2e2e2e" stroke-width="0.95"/>
<path d="M691.5,286 H728.5 A37,37 0 0 1 691.5,323 Z" fill="#fff" stroke="#2e2e2e" stroke-width="0.95"/>
<path d="M695.2,288.2 H725.3 A31.6,31.6 0 0 1 693.7,319.8 V289.7 Q693.7,288.2 695.2,288.2 Z" fill="#fff" stroke="#2e2e2e" stroke-width="0.95"/>
<path d="M224.5,571.5 H261.5 A37,37 0 0 0 224.5,534.5 Z" fill="#fff" stroke="#2e2e2e" stroke-width="0.95"/>
<path d="M228.2,569.3 H258.3 A31.6,31.6 0 0 0 226.7,537.7 V567.8 Q226.7,569.3 228.2,569.3 Z" fill="#fff" stroke="#2e2e2e" stroke-width="0.95"/>
<g transform="translate(40,471.6) rotate(0)">
<path d="M-6.3,-6.4 C-8.4,-12 -8.6,-26.6 0,-26.6 C8.6,-26.6 8.4,-12 6.3,-6.4 Z" fill="#fff" stroke="#111" stroke-width="1"/>
<path d="M-8.9,-0.2 L-9.5,-5.6 Q-9.7,-7.9 -7.4,-7.5 Q0,-6.3 7.4,-7.5 Q9.7,-7.9 9.5,-5.6 L8.9,-0.2 Q0,0.5 -8.9,-0.2 Z" fill="#fff" stroke="#111" stroke-width="1"/>
</g>
<g transform="translate(1078.25,471.6) rotate(0)">
<path d="M-6.3,-6.4 C-8.4,-12 -8.6,-26.6 0,-26.6 C8.6,-26.6 8.4,-12 6.3,-6.4 Z" fill="#fff" stroke="#111" stroke-width="1"/>
<path d="M-8.9,-0.2 L-9.5,-5.6 Q-9.7,-7.9 -7.4,-7.5 Q0,-6.3 7.4,-7.5 Q9.7,-7.9 9.5,-5.6 L8.9,-0.2 Q0,0.5 -8.9,-0.2 Z" fill="#fff" stroke="#111" stroke-width="1"/>
</g>
<g transform="translate(426.4,373.9) rotate(270)">
<path d="M-6.3,-6.4 C-8.4,-12 -8.6,-26.6 0,-26.6 C8.6,-26.6 8.4,-12 6.3,-6.4 Z" fill="#fff" stroke="#111" stroke-width="1"/>
<path d="M-8.9,-0.2 L-9.5,-5.6 Q-9.7,-7.9 -7.4,-7.5 Q0,-6.3 7.4,-7.5 Q9.7,-7.9 9.5,-5.6 L8.9,-0.2 Q0,0.5 -8.9,-0.2 Z" fill="#fff" stroke="#111" stroke-width="1"/>
</g>
<g transform="translate(443.1,373.9) rotate(90)">
<path d="M-6.3,-6.4 C-8.4,-12 -8.6,-26.6 0,-26.6 C8.6,-26.6 8.4,-12 6.3,-6.4 Z" fill="#fff" stroke="#111" stroke-width="1"/>
<path d="M-8.9,-0.2 L-9.5,-5.6 Q-9.7,-7.9 -7.4,-7.5 Q0,-6.3 7.4,-7.5 Q9.7,-7.9 9.5,-5.6 L8.9,-0.2 Q0,0.5 -8.9,-0.2 Z" fill="#fff" stroke="#111" stroke-width="1"/>
</g>
<g transform="translate(692,373.9) rotate(90)">
<path d="M-6.3,-6.4 C-8.4,-12 -8.6,-26.6 0,-26.6 C8.6,-26.6 8.4,-12 6.3,-6.4 Z" fill="#fff" stroke="#111" stroke-width="1"/>
<path d="M-8.9,-0.2 L-9.5,-5.6 Q-9.7,-7.9 -7.4,-7.5 Q0,-6.3 7.4,-7.5 Q9.7,-7.9 9.5,-5.6 L8.9,-0.2 Q0,0.5 -8.9,-0.2 Z" fill="#fff" stroke="#111" stroke-width="1"/>
</g>
<g transform="translate(243.2,493) rotate(180)">
<path d="M-6.3,-6.4 C-8.4,-12 -8.6,-26.6 0,-26.6 C8.6,-26.6 8.4,-12 6.3,-6.4 Z" fill="#fff" stroke="#111" stroke-width="1"/>
<path d="M-8.9,-0.2 L-9.5,-5.6 Q-9.7,-7.9 -7.4,-7.5 Q0,-6.3 7.4,-7.5 Q9.7,-7.9 9.5,-5.6 L8.9,-0.2 Q0,0.5 -8.9,-0.2 Z" fill="#fff" stroke="#111" stroke-width="1"/>
</g>
<g transform="translate(630,508) rotate(90)">
<path d="M-6.3,-6.4 C-8.4,-12 -8.6,-26.6 0,-26.6 C8.6,-26.6 8.4,-12 6.3,-6.4 Z" fill="#fff" stroke="#111" stroke-width="1"/>
<path d="M-8.9,-0.2 L-9.5,-5.6 Q-9.7,-7.9 -7.4,-7.5 Q0,-6.3 7.4,-7.5 Q9.7,-7.9 9.5,-5.6 L8.9,-0.2 Q0,0.5 -8.9,-0.2 Z" fill="#fff" stroke="#111" stroke-width="1"/>
</g>
</g>
<g id="outlines" fill="none" stroke-linejoin="miter">
<polygon points="286.25,405 832,405 832,471.25 585.5,471.25 585.5,493 613,493 613,728.25 505,728.25 505,493 531.75,493 531.75,471.25 286.25,471.25" fill="none" stroke="#141414" stroke-width="1.25"/>
<polygon points="505,750 613.25,750 613.25,799.5 629.5,799.5 629.5,828 488.75,828 488.75,799.5 505,799.5" fill="none" stroke="#141414" stroke-width="1.25"/>
<polygon points="24.25,85 170,85 170,135.5 148.5,135.5 148.5,156.75 172.5,156.75 172.5,322 24.25,322 24.25,156.75 74.25,156.75 74.25,135.5 24.25,135.5" fill="none" stroke="#141414" stroke-width="1.25"/>
<polygon points="24.25,328 115,328 115,471.25 24.25,471.25 24.25,405.75 51.25,405.75 51.25,389.25 24.25,389.25" fill="none" stroke="#141414" stroke-width="1.25"/>
<polygon points="120.5,328 172.5,328 172.5,405.75 275.75,405.75 275.75,471.25 120.5,471.25" fill="none" stroke="#141414" stroke-width="1.25"/>
<polygon points="24.25,493 131.75,493 131.75,524.25 137,524.25 137,493 213.75,493 213.75,728.25 198.25,728.25 198.25,750 211.25,750 211.25,799.5 78.75,799.5 78.75,750 123.75,750 123.75,728.25 24.25,728.25" fill="none" stroke="#141414" stroke-width="1.25"/>
<polygon points="185.5,85 427,85 427,135.5 377.5,135.5 377.5,156.75 427,156.75 427,280.5 317.5,280.5 317.5,156.75 323,156.75 323,135.5 290.5,135.5 290.5,156.75 312.5,156.75 312.5,280.5 280,280.5 280,389.25 183.25,389.25 183.25,156.75 216.75,156.75 216.75,135.5 185.5,135.5" fill="none" stroke="#141414" stroke-width="1.25"/>
<polygon points="285,285.5 351.25,285.5 351.25,389.25 285,389.25" fill="none" stroke="#141414" stroke-width="1.25"/>
<polygon points="357,285.5 426.25,285.5 426.25,389.25 357,389.25" fill="none" stroke="#141414" stroke-width="1.25"/>
<polygon points="442.5,85 574.5,85 574.5,135.5 550,135.5 550,280.5 442.5,280.5 442.5,156.75 474.25,156.75 474.25,135.5 442.5,135.5" fill="none" stroke="#141414" stroke-width="1.25"/>
<polygon points="555.5,156.75 675.5,156.75 675.5,389.25 589.5,389.25 589.5,280.5 555.5,280.5" fill="none" stroke="#141414" stroke-width="1.25"/>
<polygon points="518.75,285.5 583.75,285.5 583.75,389.25 518.75,389.25" fill="none" stroke="#141414" stroke-width="1.25"/>
<polygon points="442.5,285.5 513.75,285.5 513.75,389.25 442.5,389.25" fill="none" stroke="#141414" stroke-width="1.25"/>
<polygon points="691.5,85 932.5,85 932.5,135.5 905.75,135.5 905.75,156.75 935,156.75 935,389.25 838,389.25 838,280.5 805.5,280.5 805.5,156.75 831.75,156.75 831.75,135.5 795,135.5 795,156.75 800,156.75 800,280.5 691.5,280.5 691.5,156.75 741.75,156.75 741.75,135.5 691.5,135.5" fill="none" stroke="#141414" stroke-width="1.25"/>
<polygon points="691.25,285.5 762,285.5 762,389.25 691.25,389.25" fill="none" stroke="#141414" stroke-width="1.25"/>
<polygon points="767.5,285.5 832.5,285.5 832.5,389.25 767.5,389.25" fill="none" stroke="#141414" stroke-width="1.25"/>
<polygon points="948,85 1093.75,85 1093.75,135.5 1043.5,135.5 1043.5,156.75 1093.75,156.75 1093.75,322 945.5,322 945.5,156.75 969.5,156.75 969.5,135.5 948,135.5" fill="none" stroke="#141414" stroke-width="1.25"/>
<polygon points="945.5,328 997,328 997,471.25 843,471.25 843,405.75 945.5,405.75" fill="none" stroke="#141414" stroke-width="1.25"/>
<polygon points="1002.5,328 1093.75,328 1093.75,389.25 1067.5,389.25 1067.5,405.75 1093.75,405.75 1093.75,471.25 1002.5,471.25" fill="none" stroke="#141414" stroke-width="1.25"/>
<polygon points="875,493 980.75,493 980.75,561.25 875,561.25" fill="none" stroke="#141414" stroke-width="1.25"/>
<polygon points="875,567.5 980.75,567.5 980.75,728.25 974.25,728.25 974.25,750 1010.75,750 1010.75,799.5 878,799.5 878,750 899.25,750 899.25,728.25 875,728.25" fill="none" stroke="#141414" stroke-width="1.25"/>
<polygon points="986.25,493 1093.75,493 1093.75,728.25 986.25,728.25" fill="none" stroke="#141414" stroke-width="1.25"/>
<polygon points="224.25,493 297.5,493 297.5,571.75 224.25,571.75" fill="none" stroke="#141414" stroke-width="1.25"/>
<polygon points="303.25,493 405,493 405,571.75 303.25,571.75" fill="none" stroke="#141414" stroke-width="1.25"/>
<polygon points="224.25,577.5 489.25,577.5 489.25,728.25 435,728.25 435,750 488.75,750 488.75,799.5 227.5,799.5 227.5,750 269.5,750 269.5,728.25 223.75,728.25" fill="none" stroke="#141414" stroke-width="1.25"/>
<polygon points="629.5,493 699.5,493 699.5,608.25 629.5,608.25" fill="none" stroke="#141414" stroke-width="1.25"/>
<polygon points="704.5,493 770.75,493 770.75,608.25 704.5,608.25" fill="none" stroke="#141414" stroke-width="1.25"/>
<polygon points="629.5,614.5 737,614.5 737,728.25 733.75,728.25 733.75,750 772,750 772,728.25 743,728.25 743,614.5 776.25,614.5 776.25,493 865,493 865,728.25 845.75,728.25 845.75,750 862,750 862,799.5 629.5,799.5 629.5,750 680.75,750 680.75,728.25 629.5,728.25" fill="none" stroke="#141414" stroke-width="1.25"/>
</g>
<g id="thin-edges">
<line x1="24.9" y1="85.45" x2="169.4" y2="85.45" stroke="#c3a2a4" stroke-width="2.2" />
<line x1="24.9" y1="85.45" x2="169.4" y2="85.45" stroke="#3d3d3d" stroke-width="0.95" />
<line x1="186.1" y1="85.45" x2="426.4" y2="85.45" stroke="#fbc17d" stroke-width="2.2" />
<line x1="186.1" y1="85.45" x2="426.4" y2="85.45" stroke="#3d3d3d" stroke-width="0.95" />
<line x1="443.1" y1="85.45" x2="574.5" y2="85.45" stroke="#b5d8a8" stroke-width="2.2" />
<line x1="443.1" y1="85.45" x2="574.5" y2="85.45" stroke="#3d3d3d" stroke-width="0.95" />
<line x1="692.1" y1="85.45" x2="931.9" y2="85.45" stroke="#fdf27b" stroke-width="2.2" />
<line x1="692.1" y1="85.45" x2="931.9" y2="85.45" stroke="#3d3d3d" stroke-width="0.95" />
<line x1="948.6" y1="85.45" x2="1093.1" y2="85.45" stroke="#7fc3c3" stroke-width="2.2" />
<line x1="948.6" y1="85.45" x2="1093.1" y2="85.45" stroke="#3d3d3d" stroke-width="0.95" />
<line x1="574.5" y1="85" x2="574.5" y2="134.8" stroke="#b5d8a8" stroke-width="2.2" />
<line x1="574.5" y1="85" x2="574.5" y2="134.8" stroke="#9a9a9a" stroke-width="0.7" />
<line x1="78.75" y1="799.4" x2="210.6" y2="799.4" stroke="#c3a2a4" stroke-width="2.2" />
<line x1="78.75" y1="799.4" x2="210.6" y2="799.4" stroke="#3d3d3d" stroke-width="0.95" />
<line x1="228.1" y1="799.4" x2="488.1" y2="799.4" stroke="#bbd0ee" stroke-width="2.2" />
<line x1="228.1" y1="799.4" x2="488.1" y2="799.4" stroke="#3d3d3d" stroke-width="0.95" />
<line x1="630.1" y1="799.4" x2="861.4" y2="799.4" stroke="#f6a29b" stroke-width="2.2" />
<line x1="630.1" y1="799.4" x2="861.4" y2="799.4" stroke="#3d3d3d" stroke-width="0.95" />
<line x1="878.6" y1="799.4" x2="1010.75" y2="799.4" stroke="#7fc3c3" stroke-width="2.2" />
<line x1="878.6" y1="799.4" x2="1010.75" y2="799.4" stroke="#3d3d3d" stroke-width="0.95" />
<line x1="78.75" y1="750.7" x2="78.75" y2="799.5" stroke="#c3a2a4" stroke-width="2.2" />
<line x1="78.75" y1="750.7" x2="78.75" y2="799.5" stroke="#777" stroke-width="0.7" />
<line x1="1010.75" y1="750.7" x2="1010.75" y2="799.5" stroke="#7fc3c3" stroke-width="2.2" />
<line x1="1010.75" y1="750.7" x2="1010.75" y2="799.5" stroke="#777" stroke-width="0.7" />
<rect x="24" y="83.4" width="1070" height="1.55" fill="#ffffff" stroke="none" stroke-width="1" />
<rect x="575" y="84" width="1" height="50.8" fill="#ffffff" stroke="none" stroke-width="1" />
<rect x="78" y="799.9" width="933.5" height="1.2" fill="#ffffff" stroke="none" stroke-width="1" />
<rect x="488.75" y="799.9" width="140.75" height="1.2" fill="#f2f2f2" stroke="none" stroke-width="1" />
<line x1="488.75" y1="798.5" x2="488.75" y2="828" stroke="#141414" stroke-width="1.25" />
<line x1="629.5" y1="798.5" x2="629.5" y2="828" stroke="#141414" stroke-width="1.25" />
<rect x="77.3" y="750.7" width="1" height="49.8" fill="#ffffff" stroke="none" stroke-width="1" />
<rect x="1011.2" y="750.7" width="1" height="49.8" fill="#ffffff" stroke="none" stroke-width="1" />
<line x1="8.25" y1="85" x2="24.25" y2="85" stroke="#141414" stroke-width="1.25" />
<line x1="170" y1="85" x2="185.5" y2="85" stroke="#141414" stroke-width="1.25" />
<line x1="427" y1="85" x2="442.5" y2="85" stroke="#141414" stroke-width="1.25" />
<line x1="675.5" y1="85" x2="691.5" y2="85" stroke="#141414" stroke-width="1.25" />
<line x1="932.5" y1="85" x2="948" y2="85" stroke="#141414" stroke-width="1.25" />
<line x1="1093.75" y1="85" x2="1114.5" y2="85" stroke="#141414" stroke-width="1.25" />
<line x1="211.25" y1="799.5" x2="227.5" y2="799.5" stroke="#141414" stroke-width="1.25" />
<line x1="488.75" y1="799.5" x2="505" y2="799.5" stroke="#141414" stroke-width="1.25" />
<line x1="613.25" y1="799.5" x2="629.5" y2="799.5" stroke="#141414" stroke-width="1.25" />
<line x1="862" y1="799.5" x2="878" y2="799.5" stroke="#141414" stroke-width="1.25" />
</g>
<g id="openings">
<rect x="127.5" y="322" width="33.75" height="6" fill="#ffffff" stroke="none" stroke-width="1" />
<line x1="127.5" y1="322" x2="161.25" y2="322" stroke="#9bc46a" stroke-width="0.8" />
<line x1="127.5" y1="328" x2="161.25" y2="328" stroke="#9bc46a" stroke-width="0.8" />
<rect x="115" y="403.75" width="5.5" height="34.25" fill="#ffffff" stroke="none" stroke-width="1" />
<line x1="115" y1="403.75" x2="115" y2="438" stroke="#9bc46a" stroke-width="0.8" />
<line x1="120.5" y1="403.75" x2="120.5" y2="438" stroke="#9bc46a" stroke-width="0.8" />
<rect x="275.75" y="428.75" width="10.5" height="37.5" fill="#ffffff" stroke="none" stroke-width="1" />
<line x1="275.75" y1="428.75" x2="275.75" y2="466.25" stroke="#9bc46a" stroke-width="0.8" />
<line x1="286.25" y1="428.75" x2="286.25" y2="466.25" stroke="#9bc46a" stroke-width="0.8" />
<rect x="163.75" y="471.25" width="36.25" height="21.5" fill="#ffffff" stroke="none" stroke-width="1" />
<line x1="163.75" y1="471.25" x2="200" y2="471.25" stroke="#9bc46a" stroke-width="0.8" />
<line x1="163.75" y1="492.75" x2="200" y2="492.75" stroke="#9bc46a" stroke-width="0.8" />
<rect x="280" y="292.5" width="5" height="34.5" fill="#ffffff" stroke="none" stroke-width="1" />
<line x1="280" y1="292.5" x2="280" y2="327" stroke="#9bc46a" stroke-width="0.8" />
<line x1="285" y1="292.5" x2="285" y2="327" stroke="#9bc46a" stroke-width="0.8" />
<rect x="319.5" y="280.5" width="31.75" height="5" fill="#ffffff" stroke="none" stroke-width="1" />
<line x1="319.5" y1="280.5" x2="351.25" y2="280.5" stroke="#9bc46a" stroke-width="0.8" />
<line x1="319.5" y1="285.5" x2="351.25" y2="285.5" stroke="#9bc46a" stroke-width="0.8" />
<rect x="351.25" y="347.5" width="5.75" height="36.25" fill="#ffffff" stroke="none" stroke-width="1" />
<line x1="351.25" y1="347.5" x2="351.25" y2="383.75" stroke="#9bc46a" stroke-width="0.8" />
<line x1="357" y1="347.5" x2="357" y2="383.75" stroke="#9bc46a" stroke-width="0.8" />
<rect x="312.5" y="389.25" width="37" height="15.75" fill="#ffffff" stroke="none" stroke-width="1" />
<line x1="312.5" y1="389.25" x2="349.5" y2="389.25" stroke="#9bc46a" stroke-width="0.8" />
<line x1="312.5" y1="405" x2="349.5" y2="405" stroke="#9bc46a" stroke-width="0.8" />
<rect x="519.5" y="280.5" width="30.5" height="5" fill="#ffffff" stroke="none" stroke-width="1" />
<line x1="519.5" y1="280.5" x2="550" y2="280.5" stroke="#9bc46a" stroke-width="0.8" />
<line x1="519.5" y1="285.5" x2="550" y2="285.5" stroke="#9bc46a" stroke-width="0.8" />
<rect x="513.75" y="332.5" width="5" height="35" fill="#ffffff" stroke="none" stroke-width="1" />
<line x1="513.75" y1="332.5" x2="513.75" y2="367.5" stroke="#9bc46a" stroke-width="0.8" />
<line x1="518.75" y1="332.5" x2="518.75" y2="367.5" stroke="#9bc46a" stroke-width="0.8" />
<rect x="583.75" y="313.75" width="5.75" height="35.75" fill="#ffffff" stroke="none" stroke-width="1" />
<line x1="583.75" y1="313.75" x2="583.75" y2="349.5" stroke="#9bc46a" stroke-width="0.8" />
<line x1="589.5" y1="313.75" x2="589.5" y2="349.5" stroke="#9bc46a" stroke-width="0.8" />
<rect x="521.25" y="389.25" width="37.5" height="15.75" fill="#ffffff" stroke="none" stroke-width="1" />
<line x1="521.25" y1="389.25" x2="558.75" y2="389.25" stroke="#9bc46a" stroke-width="0.8" />
<line x1="521.25" y1="405" x2="558.75" y2="405" stroke="#9bc46a" stroke-width="0.8" />
<rect x="768.75" y="280.5" width="30.75" height="5" fill="#ffffff" stroke="none" stroke-width="1" />
<line x1="768.75" y1="280.5" x2="799.5" y2="280.5" stroke="#9bc46a" stroke-width="0.8" />
<line x1="768.75" y1="285.5" x2="799.5" y2="285.5" stroke="#9bc46a" stroke-width="0.8" />
<rect x="762" y="331.25" width="5.5" height="36.75" fill="#ffffff" stroke="none" stroke-width="1" />
<line x1="762" y1="331.25" x2="762" y2="368" stroke="#9bc46a" stroke-width="0.8" />
<line x1="767.5" y1="331.25" x2="767.5" y2="368" stroke="#9bc46a" stroke-width="0.8" />
<rect x="832.5" y="313.75" width="5.5" height="35.75" fill="#ffffff" stroke="none" stroke-width="1" />
<line x1="832.5" y1="313.75" x2="832.5" y2="349.5" stroke="#9bc46a" stroke-width="0.8" />
<line x1="838" y1="313.75" x2="838" y2="349.5" stroke="#9bc46a" stroke-width="0.8" />
<rect x="768.75" y="389.25" width="36.75" height="15.75" fill="#ffffff" stroke="none" stroke-width="1" />
<line x1="768.75" y1="389.25" x2="805.5" y2="389.25" stroke="#9bc46a" stroke-width="0.8" />
<line x1="768.75" y1="405" x2="805.5" y2="405" stroke="#9bc46a" stroke-width="0.8" />
<rect x="951.25" y="322" width="35" height="6" fill="#ffffff" stroke="none" stroke-width="1" />
<line x1="951.25" y1="322" x2="986.25" y2="322" stroke="#9bc46a" stroke-width="0.8" />
<line x1="951.25" y1="328" x2="986.25" y2="328" stroke="#9bc46a" stroke-width="0.8" />
<rect x="997" y="403.75" width="5.5" height="34.25" fill="#ffffff" stroke="none" stroke-width="1" />
<line x1="997" y1="403.75" x2="997" y2="438" stroke="#9bc46a" stroke-width="0.8" />
<line x1="1002.5" y1="403.75" x2="1002.5" y2="438" stroke="#9bc46a" stroke-width="0.8" />
<rect x="832" y="430" width="11" height="36.25" fill="#ffffff" stroke="none" stroke-width="1" />
<line x1="832" y1="430" x2="832" y2="466.25" stroke="#9bc46a" stroke-width="0.8" />
<line x1="843" y1="430" x2="843" y2="466.25" stroke="#9bc46a" stroke-width="0.8" />
<rect x="885.75" y="471.25" width="36.25" height="21.5" fill="#ffffff" stroke="none" stroke-width="1" />
<line x1="885.75" y1="471.25" x2="922" y2="471.25" stroke="#9bc46a" stroke-width="0.8" />
<line x1="885.75" y1="492.75" x2="922" y2="492.75" stroke="#9bc46a" stroke-width="0.8" />
<rect x="882" y="561.25" width="33.5" height="6.25" fill="#ffffff" stroke="none" stroke-width="1" />
<line x1="882" y1="561.25" x2="915.5" y2="561.25" stroke="#9bc46a" stroke-width="0.8" />
<line x1="882" y1="567.5" x2="915.5" y2="567.5" stroke="#9bc46a" stroke-width="0.8" />
<rect x="980.75" y="521.25" width="5.5" height="34.25" fill="#ffffff" stroke="none" stroke-width="1" />
<line x1="980.75" y1="521.25" x2="980.75" y2="555.5" stroke="#9bc46a" stroke-width="0.8" />
<line x1="986.25" y1="521.25" x2="986.25" y2="555.5" stroke="#9bc46a" stroke-width="0.8" />
<rect x="297.5" y="520" width="5.75" height="35" fill="#ffffff" stroke="none" stroke-width="1" />
<line x1="297.5" y1="520" x2="297.5" y2="555" stroke="#9bc46a" stroke-width="0.8" />
<line x1="303.25" y1="520" x2="303.25" y2="555" stroke="#9bc46a" stroke-width="0.8" />
<rect x="343.25" y="571.75" width="33" height="5.75" fill="#ffffff" stroke="none" stroke-width="1" />
<line x1="343.25" y1="571.75" x2="376.25" y2="571.75" stroke="#9bc46a" stroke-width="0.8" />
<line x1="343.25" y1="577.5" x2="376.25" y2="577.5" stroke="#9bc46a" stroke-width="0.8" />
<rect x="336.25" y="471.25" width="35" height="21.75" fill="#ffffff" stroke="none" stroke-width="1" />
<line x1="336.25" y1="471.25" x2="371.25" y2="471.25" stroke="#9bc46a" stroke-width="0.8" />
<line x1="336.25" y1="493" x2="371.25" y2="493" stroke="#9bc46a" stroke-width="0.8" />
<rect x="699.5" y="535.5" width="5" height="34.5" fill="#ffffff" stroke="none" stroke-width="1" />
<line x1="699.5" y1="535.5" x2="699.5" y2="570" stroke="#9bc46a" stroke-width="0.8" />
<line x1="704.5" y1="535.5" x2="704.5" y2="570" stroke="#9bc46a" stroke-width="0.8" />
<rect x="706.25" y="608.25" width="30" height="6.25" fill="#ffffff" stroke="none" stroke-width="1" />
<line x1="706.25" y1="608.25" x2="736.25" y2="608.25" stroke="#9bc46a" stroke-width="0.8" />
<line x1="706.25" y1="614.5" x2="736.25" y2="614.5" stroke="#9bc46a" stroke-width="0.8" />
<rect x="770.75" y="568.25" width="5.5" height="35.5" fill="#ffffff" stroke="none" stroke-width="1" />
<line x1="770.75" y1="568.25" x2="770.75" y2="603.75" stroke="#9bc46a" stroke-width="0.8" />
<line x1="776.25" y1="568.25" x2="776.25" y2="603.75" stroke="#9bc46a" stroke-width="0.8" />
<rect x="709.5" y="471.25" width="36" height="21.75" fill="#ffffff" stroke="none" stroke-width="1" />
<line x1="709.5" y1="471.25" x2="745.5" y2="471.25" stroke="#9bc46a" stroke-width="0.8" />
<line x1="709.5" y1="493" x2="745.5" y2="493" stroke="#9bc46a" stroke-width="0.8" />
<rect x="438.3" y="471.25" width="38.1" height="21.75" fill="#ffffff" stroke="none" stroke-width="1" />
<line x1="438.3" y1="471.25" x2="438.3" y2="493" stroke="#141414" stroke-width="1" />
<line x1="476.4" y1="471.25" x2="476.4" y2="493" stroke="#141414" stroke-width="1" />
<rect x="34.5" y="728.25" width="41.25" height="21.75" fill="#ffffff" stroke="#141414" stroke-width="1.1" />
<rect x="35.3" y="742.5" width="39.65" height="3.2" fill="#7c7c7c" stroke="#222" stroke-width="0.7" />
<line x1="37.1" y1="742.8" x2="37.1" y2="745.4" stroke="#222" stroke-width="0.8" />
<line x1="52.325" y1="742.8" x2="52.325" y2="745.4" stroke="#222" stroke-width="0.8" />
<line x1="57.925" y1="742.8" x2="57.925" y2="745.4" stroke="#222" stroke-width="0.8" />
<line x1="73.15" y1="742.8" x2="73.15" y2="745.4" stroke="#222" stroke-width="0.8" />
<rect x="520.75" y="728.25" width="76.75" height="21.75" fill="#ffffff" stroke="#141414" stroke-width="1.1" />
<rect x="521.55" y="742.5" width="75.15" height="3.2" fill="#7c7c7c" stroke="#222" stroke-width="0.7" />
<line x1="523.35" y1="742.8" x2="523.35" y2="745.4" stroke="#222" stroke-width="0.8" />
<line x1="556.325" y1="742.8" x2="556.325" y2="745.4" stroke="#222" stroke-width="0.8" />
<line x1="561.925" y1="742.8" x2="561.925" y2="745.4" stroke="#222" stroke-width="0.8" />
<line x1="594.9" y1="742.8" x2="594.9" y2="745.4" stroke="#222" stroke-width="0.8" />
<rect x="1028.75" y="728.25" width="53.75" height="21.75" fill="#ffffff" stroke="#141414" stroke-width="1.1" />
<rect x="1029.55" y="742.5" width="52.15" height="3.2" fill="#7c7c7c" stroke="#222" stroke-width="0.7" />
<line x1="1031.35" y1="742.8" x2="1031.35" y2="745.4" stroke="#222" stroke-width="0.8" />
<line x1="1052.83" y1="742.8" x2="1052.83" y2="745.4" stroke="#222" stroke-width="0.8" />
<line x1="1058.42" y1="742.8" x2="1058.42" y2="745.4" stroke="#222" stroke-width="0.8" />
<line x1="1079.9" y1="742.8" x2="1079.9" y2="745.4" stroke="#222" stroke-width="0.8" />
<rect x="586.25" y="135.5" width="54.25" height="21.25" fill="#ffffff" stroke="#141414" stroke-width="1.1" />
<rect x="587" y="135.8" width="52.8" height="1.9" fill="#b5b5b5" stroke="#333" stroke-width="0.5" />
</g>
<g id="vents">
<rect x="13.3" y="291.5" width="6.4" height="6.4" fill="#e8e8e8" stroke="#111" stroke-width="0.8"/><path d="M13.3,297.9 L19.7,291.5 V297.9 Z" fill="#111"/>
<rect x="13.3" y="357.6" width="6.4" height="6.4" fill="#8e8e8e" stroke="#111" stroke-width="1.0" />
<line x1="13.3" y1="357.6" x2="19.7" y2="364" stroke="#111" stroke-width="1.0" />
<rect x="13.8" y="368.7" width="10.5" height="10.5" fill="#5f5f5f" stroke="#3f3f3f" stroke-width="0.8" />
<rect x="19.7" y="497.4" width="4.4" height="6.4" fill="#8a8a8a" stroke="#222" stroke-width="0.9" />
<rect x="13.3" y="497.4" width="6.4" height="6.4" fill="#8e8e8e" stroke="#111" stroke-width="1.0" />
<line x1="13.3" y1="497.4" x2="19.7" y2="503.8" stroke="#111" stroke-width="1.0" />
<rect x="34.3" y="472.1" width="11.1" height="10" fill="#5f5f5f" stroke="#3f3f3f" stroke-width="0.8" />
<rect x="49.9" y="476.4" width="6.4" height="6.4" fill="#8e8e8e" stroke="#111" stroke-width="1.0" />
<line x1="49.9" y1="476.4" x2="56.3" y2="482.8" stroke="#111" stroke-width="1.0" />
<rect x="60.5" y="472" width="6.4" height="4.4" fill="#8a8a8a" stroke="#222" stroke-width="0.9" />
<rect x="60.5" y="476.4" width="6.4" height="6.4" fill="#8e8e8e" stroke="#111" stroke-width="1.0" />
<line x1="60.5" y1="476.4" x2="66.9" y2="482.8" stroke="#111" stroke-width="1.0" />
<rect x="421.6" y="281.3" width="9.8" height="15.3" fill="none" stroke="#222" stroke-width="0.9"/>
<rect x="437.7" y="268.9" width="4.4" height="6.4" fill="#8a8a8a" stroke="#222" stroke-width="0.9" />
<rect x="431.3" y="268.9" width="6.4" height="6.4" fill="#8e8e8e" stroke="#111" stroke-width="1.0" />
<line x1="431.3" y1="268.9" x2="437.7" y2="275.3" stroke="#111" stroke-width="1.0" />
<rect x="431.4" y="290.3" width="6.4" height="6.4" fill="#8e8e8e" stroke="#111" stroke-width="1.0" />
<line x1="431.4" y1="290.3" x2="437.8" y2="296.7" stroke="#111" stroke-width="1.0" />
<rect x="431.4" y="301.8" width="6.4" height="6.4" fill="#8e8e8e" stroke="#111" stroke-width="1.0" />
<line x1="431.4" y1="308.2" x2="437.8" y2="301.8" stroke="#111" stroke-width="1.0" />
<rect x="431.4" y="357.7" width="6.4" height="6.4" fill="#8e8e8e" stroke="#111" stroke-width="1.0" />
<line x1="431.4" y1="357.7" x2="437.8" y2="364.1" stroke="#111" stroke-width="1.0" />
<rect x="426.8" y="368.6" width="10.9" height="10.9" fill="#5f5f5f" stroke="#3f3f3f" stroke-width="0.8" />
<rect x="415.8" y="389.9" width="6.4" height="4.4" fill="#8a8a8a" stroke="#222" stroke-width="0.9" />
<rect x="415.8" y="394.3" width="6.4" height="6.4" fill="#8e8e8e" stroke="#111" stroke-width="1.0" />
<line x1="415.8" y1="400.7" x2="422.2" y2="394.3" stroke="#111" stroke-width="1.0" />
<rect x="447.3" y="389.9" width="6.4" height="4.4" fill="#8a8a8a" stroke="#222" stroke-width="0.9" />
<rect x="447.3" y="394.3" width="6.4" height="6.4" fill="#8e8e8e" stroke="#111" stroke-width="1.0" />
<line x1="447.3" y1="400.7" x2="453.7" y2="394.3" stroke="#111" stroke-width="1.0" />
<rect x="680.2" y="194.3" width="6.4" height="6.4" fill="#8e8e8e" stroke="#111" stroke-width="1.0" />
<line x1="680.2" y1="200.7" x2="686.6" y2="194.3" stroke="#111" stroke-width="1.0" />
<rect x="686.9" y="259" width="4.4" height="6.4" fill="#8a8a8a" stroke="#222" stroke-width="0.9" />
<rect x="680.5" y="259" width="6.4" height="6.4" fill="#8e8e8e" stroke="#111" stroke-width="1.0" />
<line x1="680.5" y1="259" x2="686.9" y2="265.4" stroke="#111" stroke-width="1.0" />
<rect x="686.9" y="336.2" width="4.4" height="6.4" fill="#8a8a8a" stroke="#222" stroke-width="0.9" />
<rect x="680.5" y="336.2" width="6.4" height="6.4" fill="#8e8e8e" stroke="#111" stroke-width="1.0" />
<line x1="680.5" y1="336.2" x2="686.9" y2="342.6" stroke="#111" stroke-width="1.0" />
<rect x="680.5" y="347" width="6.4" height="6.4" fill="#8e8e8e" stroke="#111" stroke-width="1.0" />
<line x1="680.5" y1="347" x2="686.9" y2="353.4" stroke="#111" stroke-width="1.0" />
<rect x="680.5" y="357.5" width="6.4" height="6.4" fill="#8e8e8e" stroke="#111" stroke-width="1.0" />
<line x1="680.5" y1="357.5" x2="686.9" y2="363.9" stroke="#111" stroke-width="1.0" />
<rect x="681.25" y="368.75" width="9.25" height="10.5" fill="#5f5f5f" stroke="#3f3f3f" stroke-width="0.8" />
<rect x="1098.75" y="303" width="6.4" height="6.4" fill="#8e8e8e" stroke="#111" stroke-width="1.0" />
<line x1="1098.75" y1="309.4" x2="1105.15" y2="303" stroke="#111" stroke-width="1.0" />
<rect x="1098.75" y="357.5" width="6.4" height="6.4" fill="#8e8e8e" stroke="#111" stroke-width="1.0" />
<line x1="1098.75" y1="363.9" x2="1105.15" y2="357.5" stroke="#111" stroke-width="1.0" />
<rect x="1095" y="368.75" width="9.25" height="10.5" fill="#5f5f5f" stroke="#3f3f3f" stroke-width="0.8" />
<rect x="1094" y="497.4" width="4.4" height="6.4" fill="#8a8a8a" stroke="#222" stroke-width="0.9" />
<rect x="1098.4" y="497.4" width="6.4" height="6.4" fill="#8e8e8e" stroke="#111" stroke-width="1.0" />
<line x1="1098.4" y1="497.4" x2="1104.8" y2="503.8" stroke="#111" stroke-width="1.0" />
<rect x="1099.3" y="585.5" width="6.4" height="6.4" fill="#8e8e8e" stroke="#111" stroke-width="1.0" />
<line x1="1099.3" y1="591.9" x2="1105.7" y2="585.5" stroke="#111" stroke-width="1.0" />
<rect x="1073.25" y="472" width="10" height="10" fill="#5f5f5f" stroke="#3f3f3f" stroke-width="0.8" />
<rect x="1051.25" y="471.8" width="6.4" height="4.4" fill="#8a8a8a" stroke="#222" stroke-width="0.9" />
<rect x="1051.25" y="476.2" width="6.4" height="6.4" fill="#8e8e8e" stroke="#111" stroke-width="1.0" />
<line x1="1051.25" y1="476.2" x2="1057.65" y2="482.6" stroke="#111" stroke-width="1.0" />
<rect x="1062" y="476.2" width="6.4" height="6.4" fill="#8e8e8e" stroke="#111" stroke-width="1.0" />
<line x1="1062" y1="476.2" x2="1068.4" y2="482.6" stroke="#111" stroke-width="1.0" />
<rect x="235" y="482" width="10.75" height="10.5" fill="#5f5f5f" stroke="#3f3f3f" stroke-width="0.8" />
<rect x="252.6" y="481.2" width="6.4" height="4.4" fill="#8a8a8a" stroke="#222" stroke-width="0.9" />
<rect x="252.6" y="485.6" width="6.4" height="6.4" fill="#8e8e8e" stroke="#111" stroke-width="1.0" />
<line x1="252.6" y1="492" x2="259" y2="485.6" stroke="#111" stroke-width="1.0" />
<rect x="489.5" y="648.75" width="10" height="10.5" fill="#5f5f5f" stroke="#3f3f3f" stroke-width="0.8" />
<rect x="489.5" y="663.75" width="10" height="6.2" fill="#e0e0e0" stroke="#111" stroke-width="0.8"/><path d="M493.2,663.75 H499.5 V669.9 Z" fill="#111"/>
<rect x="618.75" y="503" width="10" height="10.75" fill="#5f5f5f" stroke="#3f3f3f" stroke-width="0.8" />
<rect x="618.75" y="518.25" width="6.4" height="6.4" fill="#8e8e8e" stroke="#111" stroke-width="1.0" />
<line x1="618.75" y1="518.25" x2="625.15" y2="524.65" stroke="#111" stroke-width="1.0" />
<rect x="625.15" y="529.25" width="4.4" height="6.4" fill="#8a8a8a" stroke="#222" stroke-width="0.9" />
<rect x="618.75" y="529.25" width="6.4" height="6.4" fill="#8e8e8e" stroke="#111" stroke-width="1.0" />
<line x1="618.75" y1="529.25" x2="625.15" y2="535.65" stroke="#111" stroke-width="1.0" />
<rect x="624.8" y="618.75" width="4.4" height="6.4" fill="#8a8a8a" stroke="#222" stroke-width="0.9" />
<rect x="618.4" y="618.75" width="6.4" height="6.4" fill="#8e8e8e" stroke="#111" stroke-width="1.0" />
<line x1="618.4" y1="618.75" x2="624.8" y2="625.15" stroke="#111" stroke-width="1.0" />
<rect x="618.75" y="683" width="6.4" height="6.4" fill="#8e8e8e" stroke="#111" stroke-width="1.0" />
<line x1="618.75" y1="689.4" x2="625.15" y2="683" stroke="#111" stroke-width="1.0" />
</g>
<g id="doors" fill="none" stroke="#151515" stroke-width="1.05" stroke-linejoin="round">
<path d="M313.5,405 L344.70,423.16 A36.10,36.10 0 0 0 349.6,405" fill="#ffffff"/>
<path d="M558.75,405 L525.81,422.92 A37.50,37.50 0 0 1 521.25,405" fill="#ffffff"/>
<path d="M805.5,405 L773.28,422.67 A36.75,36.75 0 0 1 768.75,405" fill="#ffffff"/>
<path d="M286.3,430 L303.67,461.82 A36.25,36.25 0 0 1 286.3,466.25" fill="#ffffff"/>
<path d="M832,430 L814.73,461.87 A36.25,36.25 0 0 0 832,466.25" fill="#ffffff"/>
<path d="M371.5,471.25 L340.53,453.90 A35.50,35.50 0 0 0 336,471.25" fill="#ffffff"/>
<path d="M745.5,471.25 L713.85,454.10 A36.00,36.00 0 0 0 709.5,471.25" fill="#ffffff"/>
<path d="M127.5,322 L156.88,305.39 A33.75,33.75 0 0 1 161.25,322" fill="none"/>
<path d="M120.5,403.75 L137.39,433.55 A34.25,34.25 0 0 1 120.5,438" fill="none"/>
<path d="M166.25,493 L195.39,510.02 A33.75,33.75 0 0 0 200,493" fill="none"/>
<path d="M285.3,326.4 L301.98,296.77 A34.00,34.00 0 0 0 285.3,292.4" fill="none"/>
<path d="M319.7,286 L346.07,300.92 A30.30,30.30 0 0 0 350,286" fill="none"/>
<path d="M351.25,383.75 L333.73,352.01 A36.25,36.25 0 0 1 351.25,347.5" fill="none"/>
<path d="M550,285.5 L523.30,300.25 A30.50,30.50 0 0 1 519.5,285.5" fill="none"/>
<path d="M518.75,332.5 L535.36,363.31 A35.00,35.00 0 0 1 518.75,367.5" fill="none"/>
<path d="M583.75,349.5 L567.24,317.79 A35.75,35.75 0 0 1 583.75,313.75" fill="none"/>
<path d="M799.5,285.5 L772.41,300.05 A30.75,30.75 0 0 1 768.75,285.5" fill="none"/>
<path d="M767.5,331.25 L784.67,363.74 A36.75,36.75 0 0 1 767.5,368" fill="none"/>
<path d="M832.5,349.5 L815.58,318.01 A35.75,35.75 0 0 1 832.5,313.75" fill="none"/>
<path d="M951.25,322 L981.80,304.91 A35.00,35.00 0 0 1 986.25,322" fill="none"/>
<path d="M997,403.75 L980.49,433.76 A34.25,34.25 0 0 0 997,438" fill="none"/>
<path d="M886.25,493 L917.56,510.25 A35.75,35.75 0 0 0 922,493" fill="none"/>
<path d="M882,561.25 L911.28,544.98 A33.50,33.50 0 0 1 915.5,561.25" fill="none"/>
<path d="M980.75,555.5 L964.24,525.49 A34.25,34.25 0 0 1 980.75,521.25" fill="none"/>
<path d="M303.25,555 L320.53,524.56 A35.00,35.00 0 0 0 303.25,520" fill="none"/>
<path d="M376.25,571.75 L347.41,555.70 A33.00,33.00 0 0 0 343.25,571.75" fill="none"/>
<path d="M704.5,535.5 L722.14,565.15 A34.50,34.50 0 0 1 704.5,570" fill="none"/>
<path d="M736.25,608.25 L709.95,593.81 A30.00,30.00 0 0 0 706.25,608.25" fill="none"/>
<path d="M770.75,568.25 L752.91,598.94 A35.50,35.50 0 0 0 770.75,603.75" fill="none"/>
</g>
<g id="shaft">
<rect x="420.25" y="492.6" width="69.25" height="68.7" fill="#050505" stroke="#111" stroke-width="0.8" />
<polygon points="421.2,493.6 482,499.4 488.4,560.4 421.2,560.4" fill="#ffffff" stroke="none" stroke-width="1.25" />
<line x1="429.7" y1="470.1" x2="449.2" y2="470.1" stroke="#777" stroke-width="1.4" />
<line x1="465.9" y1="470.1" x2="485.2" y2="470.1" stroke="#777" stroke-width="1.4" />
</g>
<g id="badges">
<circle cx="331.4" cy="397.8" r="15.6" fill="#ff1a1a"/>
<text x="331.4" y="405.8" text-anchor="middle" font-size="22.5" font-weight="bold" textLength="31" lengthAdjust="spacingAndGlyphs" fill="#000" stroke="#000" stroke-width="1.1" stroke-linejoin="round">45</text>
<circle cx="540" cy="398" r="15.6" fill="#ff1a1a"/>
<text x="540" y="406" text-anchor="middle" font-size="22.5" font-weight="bold" textLength="31" lengthAdjust="spacingAndGlyphs" fill="#000" stroke="#000" stroke-width="1.1" stroke-linejoin="round">46</text>
<circle cx="787.5" cy="398" r="15.6" fill="#ff1a1a"/>
<text x="787.5" y="406" text-anchor="middle" font-size="22.5" font-weight="bold" textLength="31" lengthAdjust="spacingAndGlyphs" fill="#000" stroke="#000" stroke-width="1.1" stroke-linejoin="round">47</text>
<circle cx="277.4" cy="447.5" r="15.6" fill="#ff1a1a"/>
<text x="277.4" y="455.5" text-anchor="middle" font-size="22.5" font-weight="bold" textLength="31" lengthAdjust="spacingAndGlyphs" fill="#000" stroke="#000" stroke-width="1.1" stroke-linejoin="round">44</text>
<circle cx="839.25" cy="447.5" r="15.6" fill="#7ed957"/>
<text x="839.25" y="455.5" text-anchor="middle" font-size="22.5" font-weight="bold" textLength="31" lengthAdjust="spacingAndGlyphs" fill="#000" stroke="#000" stroke-width="1.1" stroke-linejoin="round">48</text>
<circle cx="355.7" cy="485" r="15.6" fill="#ff1a1a"/>
<text x="355.7" y="493" text-anchor="middle" font-size="22.5" font-weight="bold" textLength="31" lengthAdjust="spacingAndGlyphs" fill="#000" stroke="#000" stroke-width="1.1" stroke-linejoin="round">43</text>
<circle cx="727.5" cy="482" r="15.6" fill="#ff1a1a"/>
<text x="727.5" y="490" text-anchor="middle" font-size="22.5" font-weight="bold" textLength="31" lengthAdjust="spacingAndGlyphs" fill="#000" stroke="#000" stroke-width="1.1" stroke-linejoin="round">49</text>
</g>
<g id="roman">
<circle cx="547.5" cy="444.5" r="12.9" fill="none" stroke="#222" stroke-width="1.05"/>
<line x1="541.3" y1="438.9" x2="541.3" y2="450.1" stroke="#2a2a2a" stroke-width="1.15" />
<path d="M543.7,438.9 L547.2,450.1 L550.7,438.9" fill="none" stroke="#2a2a2a" stroke-width="1.15"/>
<line x1="553.1" y1="438.9" x2="552.5" y2="441.9" stroke="#2a2a2a" stroke-width="1.1" />
<circle cx="446.25" cy="521.25" r="12.9" fill="none" stroke="#222" stroke-width="1.05"/>
<line x1="442.05" y1="515.65" x2="442.05" y2="526.85" stroke="#2a2a2a" stroke-width="1.15" />
<line x1="444.85" y1="515.65" x2="444.85" y2="526.85" stroke="#2a2a2a" stroke-width="1.15" />
<line x1="447.65" y1="515.65" x2="447.65" y2="526.85" stroke="#2a2a2a" stroke-width="1.15" />
<line x1="450.25" y1="515.65" x2="449.65" y2="518.65" stroke="#2a2a2a" stroke-width="1.1" />
<circle cx="590" cy="511.75" r="12.9" fill="none" stroke="#222" stroke-width="1.05"/>
<line x1="587.4" y1="506.15" x2="587.4" y2="517.35" stroke="#2a2a2a" stroke-width="1.15" />
<line x1="590.4" y1="506.15" x2="590.4" y2="517.35" stroke="#2a2a2a" stroke-width="1.15" />
<line x1="593" y1="506.15" x2="592.4" y2="509.15" stroke="#2a2a2a" stroke-width="1.1" />
</g>
<g id="labels">
<text x="119.25" y="237.5" font-size="14" textLength="40.75" lengthAdjust="spacingAndGlyphs" fill="#262220">Спальня</text>
<text x="209.4" y="237.8" font-size="14" textLength="80.6" lengthAdjust="spacingAndGlyphs" fill="#262220">Жилая Комната</text>
<line x1="238.3" y1="241" x2="261.7" y2="241" stroke="#262220" stroke-width="1.1" />
<text x="345.75" y="237.5" font-size="14" textLength="29.25" lengthAdjust="spacingAndGlyphs" fill="#262220">Кухня</text>
<line x1="349.5" y1="241.2" x2="371.25" y2="241.2" stroke="#262220" stroke-width="1.1" />
<text x="494.5" y="237.5" font-size="14" textLength="29.75" lengthAdjust="spacingAndGlyphs" fill="#262220">Кухня</text>
<line x1="498" y1="241.2" x2="520.5" y2="241.2" stroke="#262220" stroke-width="1.1" />
<text x="579.25" y="237.5" font-size="14" textLength="80.25" lengthAdjust="spacingAndGlyphs" fill="#262220">Жилая Комната</text>
<line x1="606.75" y1="241.2" x2="633" y2="241.2" stroke="#262220" stroke-width="1.1" />
<text x="743" y="237.5" font-size="14" textLength="29.5" lengthAdjust="spacingAndGlyphs" fill="#262220">Кухня</text>
<line x1="747" y1="241.2" x2="768.75" y2="241.2" stroke="#262220" stroke-width="1.1" />
<text x="825" y="237.8" font-size="14" textLength="80.7" lengthAdjust="spacingAndGlyphs" fill="#262220">Жилая Комната</text>
<line x1="854.3" y1="241.2" x2="877.3" y2="241.2" stroke="#262220" stroke-width="1.1" />
<text x="1035.75" y="238" font-size="14" textLength="40.5" lengthAdjust="spacingAndGlyphs" fill="#262220">Спальня</text>
<line x1="1043" y1="241.7" x2="1068.75" y2="241.7" stroke="#262220" stroke-width="1.1" />
<text x="295" y="338.2" font-size="14" textLength="49.3" lengthAdjust="spacingAndGlyphs" fill="#262220">Прихожая</text>
<line x1="308.7" y1="341.1" x2="330.8" y2="341.1" stroke="#262220" stroke-width="1.1" />
<text x="384.2" y="338.2" font-size="14" textLength="21.6" lengthAdjust="spacingAndGlyphs" fill="#262220">С/У</text>
<line x1="384.2" y1="340.8" x2="405.8" y2="340.8" stroke="#262220" stroke-width="1.4" />
<text x="463.7" y="338.2" font-size="14" textLength="21.6" lengthAdjust="spacingAndGlyphs" fill="#262220">С/У</text>
<line x1="463.7" y1="340.8" x2="485.3" y2="340.8" stroke="#262220" stroke-width="1.4" />
<text x="525" y="338.2" font-size="14" textLength="49.25" lengthAdjust="spacingAndGlyphs" fill="#262220">Прихожая</text>
<line x1="538.75" y1="341.2" x2="560.5" y2="341.2" stroke="#262220" stroke-width="1.1" />
<text x="712.5" y="338.2" font-size="14" textLength="21.75" lengthAdjust="spacingAndGlyphs" fill="#262220">С/У</text>
<line x1="712.5" y1="340.6" x2="734.25" y2="340.6" stroke="#262220" stroke-width="1.4" />
<text x="773.75" y="338.2" font-size="14" textLength="48.75" lengthAdjust="spacingAndGlyphs" fill="#262220">Прихожая</text>
<line x1="787" y1="341.2" x2="809.5" y2="341.2" stroke="#262220" stroke-width="1.1" />
<text x="72.4" y="436" font-size="14" textLength="20.6" lengthAdjust="spacingAndGlyphs" fill="#262220">С/У</text>
<line x1="72.4" y1="439" x2="93" y2="439" stroke="#262220" stroke-width="1.4" />
<text x="166.25" y="435.75" font-size="14" textLength="48.25" lengthAdjust="spacingAndGlyphs" fill="#262220">Прихожая</text>
<line x1="179.5" y1="439.2" x2="201.25" y2="439.2" stroke="#262220" stroke-width="1.1" />
<text x="940.75" y="417" font-size="14" textLength="49.25" lengthAdjust="spacingAndGlyphs" fill="#262220">Прихожая</text>
<line x1="954.5" y1="420" x2="977" y2="420" stroke="#262220" stroke-width="1.1" />
<text x="1043" y="417.5" font-size="14" textLength="20.75" lengthAdjust="spacingAndGlyphs" fill="#262220">С/У</text>
<line x1="1043" y1="420.5" x2="1063.75" y2="420.5" stroke="#262220" stroke-width="1.4" />
<text x="907.5" y="522" font-size="14" textLength="41.25" lengthAdjust="spacingAndGlyphs" fill="#262220">Коридор</text>
<line x1="916.25" y1="525" x2="939.25" y2="525" stroke="#262220" stroke-width="1.1" />
<text x="907.5" y="669.25" font-size="14" textLength="40.75" lengthAdjust="spacingAndGlyphs" fill="#262220">Спальня</text>
<line x1="915" y1="672" x2="941.25" y2="672" stroke="#262220" stroke-width="1.1" />
<text x="1023.75" y="669.25" font-size="14" textLength="30" lengthAdjust="spacingAndGlyphs" fill="#262220">Кухня</text>
<line x1="1025.75" y1="672" x2="1052.5" y2="672" stroke="#262220" stroke-width="1.1" />
<text x="88" y="669.25" font-size="14" textLength="91.5" lengthAdjust="spacingAndGlyphs" fill="#262220">Кухня-гостинная</text>
<line x1="120" y1="672" x2="148" y2="672" stroke="#262220" stroke-width="1.1" />
<text x="268.25" y="535" font-size="14" textLength="21.25" lengthAdjust="spacingAndGlyphs" fill="#262220">С/У</text>
<line x1="268.25" y1="537.6" x2="289.5" y2="537.6" stroke="#262220" stroke-width="1.4" />
<text x="338.25" y="535" font-size="14" textLength="48.75" lengthAdjust="spacingAndGlyphs" fill="#262220">Прихожая</text>
<line x1="351.25" y1="537.6" x2="373.75" y2="537.6" stroke="#262220" stroke-width="1.1" />
<text x="318.75" y="669.25" font-size="14" textLength="80.75" lengthAdjust="spacingAndGlyphs" fill="#262220">Жилая Комната</text>
<line x1="345.5" y1="672" x2="372.5" y2="672" stroke="#262220" stroke-width="1.1" />
<text x="660.75" y="540" font-size="14" textLength="21.25" lengthAdjust="spacingAndGlyphs" fill="#262220">С/У</text>
<line x1="660.75" y1="543" x2="682" y2="543" stroke="#262220" stroke-width="1.4" />
<text x="715.75" y="540" font-size="14" textLength="49.25" lengthAdjust="spacingAndGlyphs" fill="#262220">Прихожая</text>
<line x1="730" y1="543" x2="751.75" y2="543" stroke="#262220" stroke-width="1.1" />
<text x="683.75" y="669.25" font-size="14" textLength="30" lengthAdjust="spacingAndGlyphs" fill="#262220">Кухня</text>
<line x1="688" y1="672" x2="710" y2="672" stroke="#262220" stroke-width="1.1" />
<text x="762" y="669.25" font-size="14" textLength="80.5" lengthAdjust="spacingAndGlyphs" fill="#262220">Жилая Комната</text>
<line x1="790" y1="672" x2="815" y2="672" stroke="#262220" stroke-width="1.1" />
<text x="63" y="102" font-size="11.6" textLength="42.5" lengthAdjust="spacingAndGlyphs" fill="#222">Лоджия</text>
<text x="320" y="102" font-size="11.6" textLength="42" lengthAdjust="spacingAndGlyphs" fill="#222">Лоджия</text>
<text x="825" y="101.3" font-size="11.6" textLength="42.3" lengthAdjust="spacingAndGlyphs" fill="#222">Лоджия</text>
<text x="103.75" y="783.75" font-size="11.6" textLength="42.5" lengthAdjust="spacingAndGlyphs" fill="#222">Лоджия</text>
<text x="381.25" y="782" font-size="11.6" textLength="42.5" lengthAdjust="spacingAndGlyphs" fill="#222">Лоджия</text>
<text x="755" y="782.5" font-size="11.6" textLength="42" lengthAdjust="spacingAndGlyphs" fill="#222">Лоджия</text>
<text x="903.25" y="782" font-size="11.6" textLength="42.25" lengthAdjust="spacingAndGlyphs" fill="#222">Лоджия</text>
</g>
</svg>
</body></html>
